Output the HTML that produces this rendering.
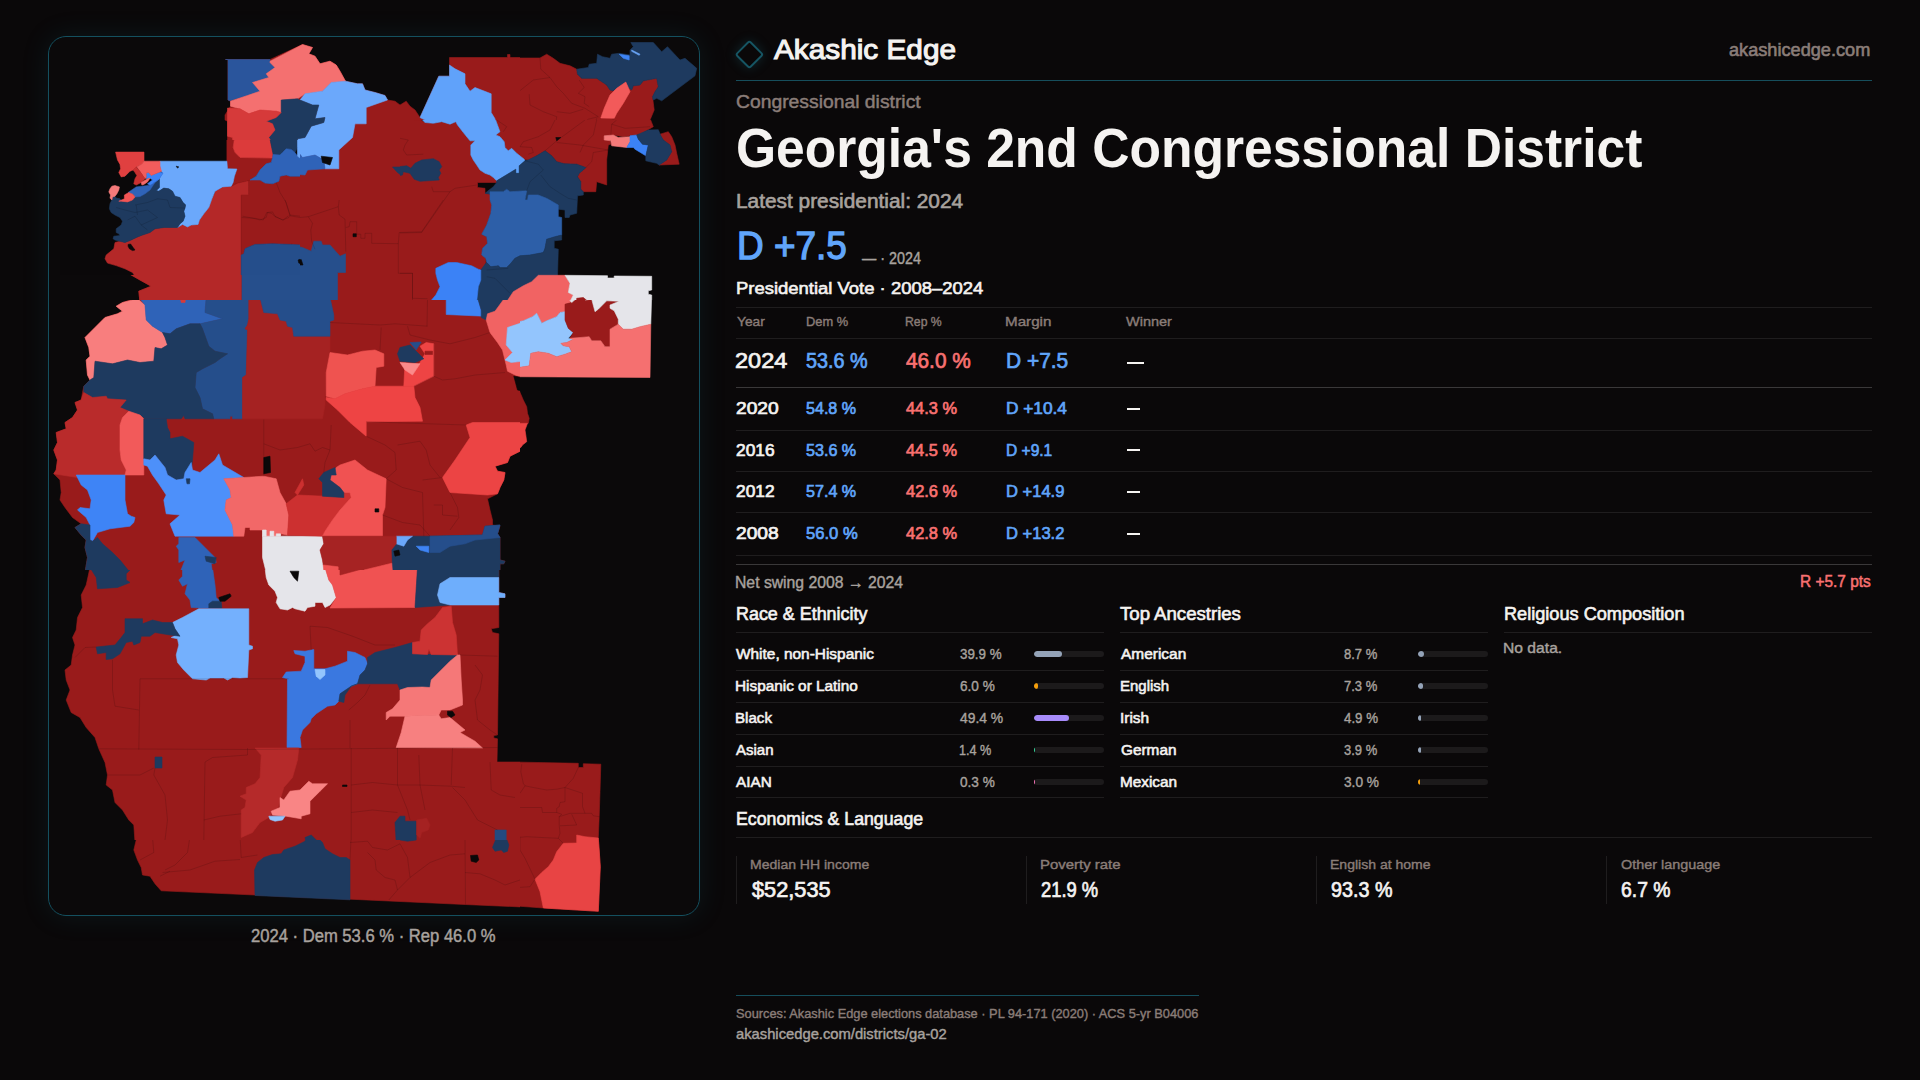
<!DOCTYPE html>
<html lang="en"><head><meta charset="utf-8"><title>Georgia's 2nd Congressional District — Akashic Edge</title>
<style>
html,body{margin:0;padding:0;background:#0a0809;}
body{width:1920px;height:1080px;position:relative;overflow:hidden;font-family:"Liberation Sans",sans-serif;}
.t{position:absolute;white-space:pre;line-height:1;transform-origin:0 50%;}
.r{position:absolute;}
.card{position:absolute;left:48px;top:36px;width:650px;height:878px;border:1px solid #14505f;border-radius:18px;box-shadow:0 0 28px rgba(30,130,150,0.13);background:transparent;}
.mapclip{position:absolute;left:49px;top:37px;width:650px;height:878px;border-radius:17px;overflow:hidden;background:#0b090a;}
.mapclip svg{position:absolute;left:-49px;top:-37px;}
.logo{position:absolute;left:738.9px;top:43.6px;width:20.8px;height:20.8px;border:2.1px solid #165563;transform:rotate(45deg);box-shadow:0 0 12px rgba(30,130,150,0.25);box-sizing:border-box;border-radius:3px}
</style></head><body>
<div class="mapclip"><svg class="map" width="1920" height="1080" viewBox="0 0 1920 1080">
<defs><clipPath id="c0"><rect x="40.0" y="30.0" width="480.0" height="270.0"/></clipPath><clipPath id="c1"><rect x="40.0" y="300.0" width="480.0" height="270.0"/></clipPath><clipPath id="c2"><rect x="40.0" y="570.0" width="480.0" height="270.0"/></clipPath><clipPath id="c3"><rect x="40.0" y="840.0" width="480.0" height="170.0"/></clipPath><clipPath id="c4"><rect x="520.0" y="30.0" width="240.0" height="180.0"/></clipPath><clipPath id="c5"><rect x="520.0" y="210.0" width="240.0" height="180.0"/></clipPath><clipPath id="c6"><rect x="520.0" y="390.0" width="240.0" height="180.0"/></clipPath><clipPath id="c7"><rect x="520.0" y="750.0" width="240.0" height="180.0"/></clipPath><clipPath id="c8"><rect x="400.0" y="120.0" width="320.0" height="180.0"/></clipPath><clipPath id="c9"><rect x="60.0" y="140.0" width="240.0" height="135.0"/></clipPath><clipPath id="c10"><rect x="300.0" y="740.0" width="320.0" height="180.0"/></clipPath><clipPath id="c11"><rect x="200.0" y="200.0" width="320.0" height="100.0"/></clipPath></defs>
<g clip-path="url(#c0)">
<polygon points="225.5,59.5 270.0,59.5 302.5,44.5 312.5,47.5 308.8,53.8 315.0,56.2 320.0,63.8 330.0,61.2 336.2,65.0 340.0,71.2 345.5,81.2 357.5,83.8 362.5,83.8 365.0,90.0 375.0,92.5 385.0,95.5 387.5,100.0 395.0,101.2 400.0,105.0 406.2,101.2 410.0,106.2 415.0,110.0 420.0,117.5 438.8,76.2 449.5,76.2 449.5,57.5 507.5,57.5 507.5,54.5 510.0,54.5 510.0,57.5 522.5,57.5 522.5,302.5 140.0,302.5 138.8,291.2 151.2,286.2 140.0,280.0 122.5,270.0 107.5,262.5 105.5,257.5 115.0,242.5 113.8,237.5 117.5,227.5 115.0,217.5 109.5,207.5 112.5,200.0 108.8,197.5 108.8,190.0 112.5,186.2 119.5,187.5 117.5,181.2 120.0,176.2 118.8,162.5 115.5,152.0 143.8,152.0 143.8,161.8 227.5,160.5 227.5,121.2 225.0,120.0 225.0,115.0 230.5,106.2 230.5,101.2 228.0,100.0 228.0,59.5" fill="#991b1b" stroke="#991b1b" stroke-width="0.6"/>
<polygon points="225.5,59.5 270.0,59.5 270.0,62.5 275.0,67.5 266.2,73.8 268.8,77.5 252.5,82.5 260.0,91.2 247.5,95.5 230.0,100.8 228.0,100.0 228.0,59.5" fill="#2a559c" stroke="#2a559c" stroke-width="0.6"/>
<polygon points="270.0,61.2 302.5,44.5 312.5,47.5 308.8,53.8 315.0,56.2 320.0,63.8 330.0,61.2 336.2,65.0 340.0,71.2 345.5,81.2 331.2,82.5 322.5,91.2 305.0,93.8 297.5,98.8 281.2,100.0 281.2,112.5 276.2,111.2 260.0,110.0 248.8,113.8 240.0,108.8 230.5,106.2 230.5,101.2 247.5,95.5 260.0,91.2 252.5,82.5 268.8,77.5 266.2,73.8 275.0,67.5 270.0,62.5" fill="#f47070" stroke="#f47070" stroke-width="0.6"/>
<polygon points="345.5,81.2 357.5,83.8 362.5,83.8 365.0,90.0 375.0,92.5 385.0,95.5 387.5,100.0 366.2,107.5 366.2,123.8 355.0,123.8 352.5,137.5 338.8,150.0 338.8,168.8 325.0,168.8 323.8,160.0 315.0,155.0 302.5,157.5 297.5,151.2 297.5,138.8 305.0,137.5 311.2,126.2 323.8,122.5 325.0,117.5 315.0,118.8 318.8,105.0 312.5,105.0 300.0,100.0 305.0,93.8 322.5,91.2 331.2,82.5" fill="#6ba8fb" stroke="#6ba8fb" stroke-width="0.6"/>
<polygon points="281.2,100.0 297.5,98.8 300.0,100.0 312.5,105.0 318.8,105.0 315.0,118.8 325.0,117.5 323.8,122.5 311.2,126.2 305.0,137.5 297.5,138.8 297.5,151.2 290.0,148.8 282.5,150.0 280.0,155.0 273.8,153.8 272.5,143.8 268.8,137.5 275.0,130.0 272.5,123.8 266.2,121.2 276.2,117.5 281.2,112.5" fill="#1e3a5f" stroke="#1e3a5f" stroke-width="0.6"/>
<polygon points="227.5,108.0 240.0,108.8 248.8,113.8 260.0,110.0 276.2,111.2 281.2,112.5 276.2,117.5 266.2,121.2 272.5,123.8 275.0,130.0 268.8,137.5 272.5,143.8 273.8,153.8 272.0,158.0 240.0,158.0 233.8,151.2 232.5,137.5 227.5,136.2" fill="#d63a3a" stroke="#d63a3a" stroke-width="0.6"/>
<polygon points="280.0,155.0 282.5,150.0 290.0,148.8 297.5,151.2 302.5,157.5 315.0,155.0 323.8,160.0 325.0,168.8 307.5,170.0 305.0,175.0 290.0,173.8 280.0,176.2 276.2,181.2 268.8,183.8 262.5,180.0 251.2,180.0 257.5,175.0 260.0,170.0 266.2,165.0 272.5,162.5" fill="#2f63b8" stroke="#2f63b8" stroke-width="0.6"/>
<polygon points="321.2,156.2 332.5,157.5 330.0,165.0 322.5,162.5" fill="#0a0809" stroke="#0a0809" stroke-width="0.6"/>
<polygon points="215.0,192.0 232.5,185.0 249.0,180.5 249.0,195.0 241.2,195.0 241.2,302.5 140.0,302.5 138.8,291.2 151.2,286.2 140.0,280.0 122.5,270.0 107.5,262.5 105.5,257.5 115.0,242.5 120.0,242.5 127.5,243.8 137.5,240.0 147.5,233.8 160.0,228.8 180.0,227.0 187.5,225.5 192.5,226.2 198.8,223.8 202.5,216.2 210.0,205.0" fill="#b42828" stroke="#b42828" stroke-width="0.6"/>
<polygon points="161.2,161.8 227.5,161.2 236.2,169.2 232.5,181.2 233.8,183.8 215.0,192.0 210.0,205.0 202.5,216.2 198.8,223.8 192.5,226.2 187.5,225.5 182.5,222.5 185.0,215.0 183.8,207.5 186.2,202.5 180.0,196.2 172.5,190.0 165.0,188.0 158.8,190.0 158.8,178.8 163.8,172.5 161.2,170.0" fill="#6ba8fb" stroke="#6ba8fb" stroke-width="0.6"/>
<polygon points="158.8,178.8 158.8,190.0 165.0,188.0 172.5,190.0 180.0,196.2 186.2,202.5 183.8,207.5 185.0,215.0 182.5,222.5 180.0,227.0 160.0,228.8 147.5,233.8 137.5,240.0 127.5,243.8 115.0,242.5 113.8,237.5 117.5,227.5 115.0,217.5 109.5,207.5 112.5,200.0 120.0,201.2 126.2,200.0 132.5,195.0 140.0,190.0 150.0,185.0" fill="#1e3a5f" stroke="#1e3a5f" stroke-width="0.6"/>
<polygon points="115.5,152.0 143.8,152.0 143.8,166.2 135.0,167.5 130.0,173.8 120.0,176.2 118.8,162.5" fill="#ec4848" stroke="#ec4848" stroke-width="0.6"/>
<polygon points="143.8,161.8 161.2,161.8 161.2,170.0 150.0,177.5 145.0,180.0 140.0,170.0 135.0,167.5 143.8,166.2" fill="#f47070" stroke="#f47070" stroke-width="0.6"/>
<polygon points="135.0,167.5 140.0,170.0 145.0,180.0 140.0,185.0 135.0,182.5 137.5,175.0" fill="#d63a3a" stroke="#d63a3a" stroke-width="0.6"/>
<polygon points="146.2,172.5 150.0,175.0 163.8,172.5 152.5,181.2 146.2,180.0" fill="#3e84f5" stroke="#3e84f5" stroke-width="0.6"/>
<polygon points="130.0,192.5 140.0,187.5 150.0,183.8 158.8,178.8 157.5,182.5 147.5,188.8 135.0,196.2" fill="#2f63b8" stroke="#2f63b8" stroke-width="0.6"/>
<polygon points="117.5,181.2 127.5,172.5 135.0,170.5 137.5,180.0 132.5,185.0 126.2,192.5 122.5,198.8 116.2,197.5 120.0,190.0" fill="#0a0809" stroke="#0a0809" stroke-width="0.6"/>
<polygon points="108.8,190.0 112.5,186.2 119.5,187.5 116.2,197.5 112.5,200.0 108.8,197.5" fill="#f47070" stroke="#f47070" stroke-width="0.6"/>
<polygon points="125.0,195.0 131.2,192.5 135.0,196.2 127.5,202.5 120.0,201.2" fill="#ec4848" stroke="#ec4848" stroke-width="0.6"/>
<polygon points="127.5,244.5 131.2,245.5 135.0,250.5 130.0,250.0" fill="#0a0809" stroke="#0a0809" stroke-width="0.6"/>
<polygon points="438.8,76.2 449.5,76.2 449.5,65.0 455.0,68.8 465.0,73.8 465.0,83.8 470.0,91.2 475.0,87.5 491.2,93.8 491.2,112.5 495.0,118.8 496.2,126.2 502.5,131.2 495.0,132.5 507.5,140.0 510.0,150.0 522.5,155.0 522.5,170.0 497.5,180.0 490.0,173.8 481.2,168.8 472.5,156.2 470.0,145.0 475.0,140.0 465.0,132.5 456.2,122.5 450.0,125.0 442.5,122.5 433.8,124.5 420.0,117.5" fill="#60a2fa" stroke="#60a2fa" stroke-width="0.6"/>
<polygon points="392.5,167.0 412.5,167.0 420.0,160.0 435.0,158.8 441.2,163.8 440.0,175.0 437.5,180.0 420.0,181.2 412.5,177.5 410.0,172.5 402.5,176.2 397.5,172.5" fill="#1e3a5f" stroke="#1e3a5f" stroke-width="0.6"/>
<polygon points="477.5,182.0 497.5,182.0 495.0,187.5 490.0,195.0 486.2,192.5 485.0,188.0 477.5,188.0" fill="#0a0809" stroke="#0a0809" stroke-width="0.6"/>
<polygon points="490.0,195.0 497.5,187.5 522.5,187.5 522.5,255.0 510.0,265.0 497.5,266.2 485.0,262.5 482.5,250.0 487.5,242.5 482.5,235.0 487.5,227.5 490.0,215.0 492.5,207.5" fill="#2f63b8" stroke="#2f63b8" stroke-width="0.6"/>
<polygon points="497.5,180.0 522.5,168.8 522.5,187.5 497.5,187.5" fill="#1e3a5f" stroke="#1e3a5f" stroke-width="0.6"/>
<polygon points="242.0,250.0 247.5,246.2 257.5,243.8 280.0,243.8 290.0,245.0 302.5,247.5 311.2,251.2 313.8,241.2 321.2,241.2 322.5,245.0 330.0,245.0 340.0,256.2 345.5,253.8 345.5,272.5 337.5,272.5 337.5,302.5 242.0,302.5" fill="#264f8c" stroke="#264f8c" stroke-width="0.6"/>
<polygon points="298.8,260.0 301.2,259.5 303.0,265.0 300.0,265.0" fill="#0a0809" stroke="#0a0809" stroke-width="0.6"/>
<polygon points="435.0,270.0 445.0,263.8 455.0,262.5 470.0,266.2 481.2,271.2 480.0,282.5 478.8,290.0 478.8,302.5 440.0,302.5 440.0,285.0 436.2,280.0" fill="#3e84f5" stroke="#3e84f5" stroke-width="0.6"/>
<polygon points="481.2,271.2 485.0,262.5 497.5,266.2 510.0,265.0 522.5,255.0 522.5,302.5 478.8,302.5 478.8,290.0 480.0,282.5" fill="#1e3a5f" stroke="#1e3a5f" stroke-width="0.6"/>
</g>
<g clip-path="url(#c1)">
<polygon points="137.5,297.5 522.5,297.5 522.5,450.0 510.0,456.2 507.5,462.5 495.0,466.2 497.5,471.2 505.0,472.5 503.8,480.0 500.0,487.5 497.5,493.8 487.5,498.8 490.0,510.0 492.5,520.0 492.5,525.0 500.0,526.2 497.5,533.8 500.0,537.5 500.0,560.0 505.0,561.2 503.8,563.8 500.0,563.8 500.0,572.5 85.0,572.5 87.5,557.5 85.0,547.5 86.2,540.0 81.2,535.0 75.0,527.5 81.2,523.8 72.5,517.5 65.0,507.5 60.0,500.0 61.2,492.5 60.0,480.0 53.8,473.8 56.2,470.0 57.5,460.0 53.8,450.0 57.5,442.5 56.2,432.5 66.2,428.8 65.0,422.5 72.5,417.5 77.5,410.0 75.0,402.5 81.2,400.0 82.5,392.5 83.8,386.2 90.0,380.0 87.5,375.0 86.2,360.0 90.0,356.2 88.8,347.5 85.0,337.5 95.0,327.5 105.0,317.5 117.5,313.8 122.5,311.2 116.2,306.2 122.5,302.5" fill="#991b1b" stroke="#991b1b" stroke-width="0.6"/>
<polygon points="117.5,313.8 122.5,311.2 116.2,306.2 122.5,302.5 137.5,298.8 145.0,305.0 146.2,320.0 152.5,326.2 162.5,332.5 165.0,337.5 167.5,345.0 161.2,348.8 155.0,347.5 153.8,361.2 140.0,362.5 127.5,360.0 112.5,363.8 95.0,361.2 93.8,377.5 90.0,380.0 87.5,375.0 86.2,360.0 90.0,356.2 88.8,347.5 85.0,337.5 95.0,327.5 105.0,317.5" fill="#f87e7e" stroke="#f87e7e" stroke-width="0.6"/>
<polygon points="138.8,297.5 206.2,297.5 205.0,312.5 222.5,318.8 200.0,323.8 190.0,323.8 176.2,328.8 170.0,333.8 162.5,332.5 152.5,326.2 146.2,320.0 145.0,305.0" fill="#2f63b8" stroke="#2f63b8" stroke-width="0.6"/>
<polygon points="180.5,298.8 185.5,298.8 185.0,302.5 181.2,302.5" fill="#d63a3a" stroke="#d63a3a" stroke-width="0.6"/>
<polygon points="206.2,297.5 248.8,297.5 248.8,318.8 247.5,325.0 245.0,328.8 247.5,330.0 246.2,375.0 242.5,377.5 242.5,418.8 232.5,418.8 232.5,416.2 230.0,416.2 230.0,418.8 213.8,418.8 212.5,413.8 202.5,408.8 200.0,397.5 195.0,387.5 196.2,372.5 202.5,368.8 215.0,362.5 220.0,358.8 227.5,353.8 215.0,351.2 208.8,346.2 202.5,328.8 200.0,323.8 222.5,318.8 205.0,312.5" fill="#254e8b" stroke="#254e8b" stroke-width="0.6"/>
<polygon points="170.0,333.8 176.2,328.8 190.0,323.8 200.0,323.8 202.5,328.8 208.8,346.2 215.0,351.2 227.5,353.8 220.0,358.8 215.0,362.5 202.5,368.8 196.2,372.5 195.0,387.5 200.0,397.5 202.5,408.8 212.5,413.8 213.8,418.8 185.0,418.8 183.8,415.5 181.2,418.8 145.0,418.8 140.0,415.0 128.8,411.2 120.0,407.5 126.2,400.0 107.5,398.8 106.2,396.2 92.5,397.5 83.8,392.5 83.8,386.2 90.0,380.0 93.8,377.5 95.0,361.2 112.5,363.8 127.5,360.0 140.0,362.5 153.8,361.2 155.0,347.5 161.2,348.8 167.5,345.0 165.0,337.5 162.5,332.5" fill="#1e3a5f" stroke="#1e3a5f" stroke-width="0.6"/>
<polygon points="248.8,297.5 260.0,297.5 263.8,312.5 277.5,313.8 280.0,320.0 286.2,321.2 287.5,326.2 292.5,327.5 293.8,336.2 330.0,336.2 330.0,350.0 326.2,372.5 325.0,396.2 325.0,405.0 322.5,418.8 242.5,418.8 242.5,377.5 246.2,375.0 247.5,330.0 245.0,328.8 247.5,325.0 248.8,318.8" fill="#a52222" stroke="#a52222" stroke-width="0.6"/>
<polygon points="260.0,297.5 330.0,297.5 333.8,315.0 333.8,320.0 330.0,321.2 330.0,336.2 293.8,336.2 292.5,327.5 287.5,326.2 286.2,321.2 280.0,320.0 277.5,313.8 263.8,312.5" fill="#254e8b" stroke="#254e8b" stroke-width="0.6"/>
<polygon points="446.2,297.5 477.5,297.5 481.2,310.0 483.8,316.2 446.2,314.5" fill="#3e84f5" stroke="#3e84f5" stroke-width="0.6"/>
<polygon points="477.5,297.5 505.0,297.5 495.0,311.2 487.5,313.8 486.2,320.0 481.2,317.5 481.2,310.0" fill="#1e3a5f" stroke="#1e3a5f" stroke-width="0.6"/>
<polygon points="505.0,297.5 522.5,297.5 522.5,322.5 507.5,327.5 506.2,345.0 512.5,352.5 505.0,360.0 511.2,362.5 522.5,361.2 522.5,377.5 515.0,375.0 507.5,371.2 506.2,365.0 502.5,350.0 497.5,342.5 490.0,332.5 486.2,320.0 487.5,313.8 495.0,311.2" fill="#f16363" stroke="#f16363" stroke-width="0.6"/>
<polygon points="507.5,327.5 522.5,322.5 522.5,361.2 511.2,362.5 505.0,360.0 512.5,352.5 506.2,345.0" fill="#93c5fd" stroke="#93c5fd" stroke-width="0.6"/>
<polygon points="513.8,376.2 522.5,377.5 522.5,391.2 517.5,390.0" fill="#0a0809" stroke="#0a0809" stroke-width="0.6"/>
<polygon points="330.0,352.5 347.5,355.0 362.5,351.2 375.0,350.0 383.8,353.8 383.8,366.2 376.2,367.5 375.0,386.2 362.5,388.8 345.0,393.8 335.0,398.8 326.2,396.2 326.2,372.5" fill="#ef5350" stroke="#ef5350" stroke-width="0.6"/>
<polygon points="326.2,397.5 335.0,398.8 345.0,393.8 362.5,388.8 375.0,386.2 413.8,386.2 415.0,397.5 420.0,407.5 422.5,421.2 366.2,421.8 366.2,436.2 350.0,422.5 337.5,410.0 326.2,400.0" fill="#ee4444" stroke="#ee4444" stroke-width="0.6"/>
<polygon points="403.8,386.2 405.0,362.5 412.5,375.0 420.0,362.5 425.0,353.8 420.0,346.2 426.2,342.5 433.8,343.8 433.8,376.2 413.8,386.2" fill="#ee4444" stroke="#ee4444" stroke-width="0.6"/>
<polygon points="400.0,362.5 420.0,363.8 412.5,375.0 405.0,370.0" fill="#fb8a8a" stroke="#fb8a8a" stroke-width="0.6"/>
<polygon points="400.0,347.5 410.0,345.0 417.5,352.5 423.8,358.8 415.0,362.5 400.0,361.2 397.5,353.8" fill="#1e3a5f" stroke="#1e3a5f" stroke-width="0.6"/>
<polygon points="410.0,342.5 421.2,342.0 416.2,350.0" fill="#254e8b" stroke="#254e8b" stroke-width="0.6"/>
<polygon points="425.0,351.2 432.5,351.2 432.5,354.5 425.0,354.5" fill="#991b1b" stroke="#991b1b" stroke-width="0.6"/>
<polygon points="83.8,392.5 92.5,397.5 106.2,396.2 107.5,398.8 126.2,400.0 120.0,407.5 128.8,411.2 122.5,417.5 120.0,425.0 120.0,450.0 121.2,460.0 126.2,470.0 125.0,475.0 77.5,477.5 53.8,473.8 56.2,470.0 57.5,460.0 53.8,450.0 57.5,442.5 56.2,432.5 66.2,428.8 65.0,422.5 72.5,417.5 77.5,410.0 75.0,402.5 81.2,400.0" fill="#b92b2b" stroke="#b92b2b" stroke-width="0.6"/>
<polygon points="128.8,411.2 140.0,415.0 143.8,418.8 143.8,475.0 125.0,475.0 126.2,470.0 121.2,460.0 120.0,450.0 120.0,425.0 122.5,417.5" fill="#f25a5a" stroke="#f25a5a" stroke-width="0.6"/>
<polygon points="143.8,418.8 166.2,418.8 167.5,427.5 170.0,432.5 170.0,438.8 182.5,436.2 193.8,442.5 192.5,460.0 191.2,470.0 185.0,472.5 183.8,478.8 176.2,480.0 167.5,475.0 165.0,467.5 155.0,455.0 150.0,460.0 143.8,458.8" fill="#1e3a5f" stroke="#1e3a5f" stroke-width="0.6"/>
<polygon points="143.8,458.8 150.0,460.0 155.0,455.0 165.0,467.5 167.5,475.0 176.2,480.0 183.8,478.8 185.0,472.5 191.2,462.5 192.5,470.0 200.0,472.5 215.0,460.0 218.8,453.8 222.5,465.0 243.8,477.5 223.8,478.8 230.0,490.0 231.2,497.5 226.2,500.0 225.0,510.0 232.5,525.0 233.8,536.2 175.0,536.2 170.0,523.8 180.0,515.0 166.2,513.8 163.8,500.0 166.2,495.0 158.8,483.8 152.5,475.0 147.5,466.2 143.8,465.0" fill="#4d90fa" stroke="#4d90fa" stroke-width="0.6"/>
<polygon points="186.2,478.8 190.0,478.8 189.5,483.8 187.0,483.8" fill="#1e3a5f" stroke="#1e3a5f" stroke-width="0.6"/>
<polygon points="76.2,475.0 125.0,475.0 125.0,500.0 127.5,513.8 131.2,516.2 135.0,517.5 133.8,522.5 130.0,526.2 110.0,528.8 97.5,532.5 92.5,541.2 90.0,540.0 90.0,525.0 86.2,517.5 77.5,510.0 80.0,507.5 90.0,508.8 91.2,500.0 87.5,490.0 81.2,485.0" fill="#3e84f6" stroke="#3e84f6" stroke-width="0.6"/>
<polygon points="75.0,527.5 81.2,523.8 90.0,525.0 90.0,540.0 92.5,541.2 97.5,537.5 102.5,543.8 112.5,552.5 120.0,560.0 130.0,572.5 85.0,572.5 87.5,557.5 85.0,547.5 86.2,540.0 81.2,535.0" fill="#1e3a5f" stroke="#1e3a5f" stroke-width="0.6"/>
<polygon points="178.8,537.5 195.0,537.5 205.0,547.5 215.0,557.5 216.2,562.5 211.2,563.8 212.5,572.5 180.0,572.5 185.0,560.0 178.8,562.5 178.8,550.0 176.2,546.2 178.8,543.8" fill="#2f63b8" stroke="#2f63b8" stroke-width="0.6"/>
<polygon points="205.0,556.2 216.2,557.5 215.0,563.8 206.2,561.2" fill="#1e3a5f" stroke="#1e3a5f" stroke-width="0.6"/>
<polygon points="223.8,478.8 243.8,477.5 263.8,476.2 276.2,478.8 280.0,492.5 286.2,503.8 288.8,515.0 287.5,535.0 281.2,533.8 280.0,536.2 262.5,536.2 262.5,530.0 250.0,530.0 250.0,527.5 245.0,527.5 243.8,536.2 233.8,536.2 232.5,525.0 225.0,510.0 226.2,500.0 231.2,497.5 230.0,490.0" fill="#f26868" stroke="#f26868" stroke-width="0.6"/>
<polygon points="262.5,536.2 322.5,536.2 323.8,543.8 320.0,550.0 322.5,560.0 325.0,572.5 266.2,572.5 262.5,557.5" fill="#e5e5ea" stroke="#e5e5ea" stroke-width="0.6"/>
<polygon points="262.5,530.0 266.2,530.0 266.2,536.2 262.5,536.2" fill="#e5e5ea" stroke="#e5e5ea" stroke-width="0.6"/>
<polygon points="270.0,531.2 273.8,531.2 273.8,536.2 270.0,536.2" fill="#e5e5ea" stroke="#e5e5ea" stroke-width="0.6"/>
<polygon points="276.2,533.8 280.5,533.8 280.5,536.2 276.2,536.2" fill="#e5e5ea" stroke="#e5e5ea" stroke-width="0.6"/>
<polygon points="263.8,457.5 270.0,456.2 270.5,472.5 263.8,473.8" fill="#0a0809" stroke="#0a0809" stroke-width="0.6"/>
<polygon points="286.2,503.8 297.5,495.0 323.8,496.2 343.8,497.5 343.8,492.5 350.0,492.5 351.2,497.5 340.0,510.0 332.5,520.0 325.0,531.2 322.5,536.2 287.5,535.0 288.8,515.0" fill="#cc3030" stroke="#cc3030" stroke-width="0.6"/>
<polygon points="295.0,492.5 302.5,478.8 303.8,485.0 297.5,495.0" fill="#cc3030" stroke="#cc3030" stroke-width="0.6"/>
<polygon points="331.2,475.0 336.2,467.5 340.0,465.0 355.0,460.0 367.5,470.0 386.2,478.8 385.0,507.5 382.5,515.0 382.5,536.2 322.5,536.2 325.0,531.2 332.5,520.0 340.0,510.0 351.2,497.5 350.0,492.5 343.8,492.5 340.0,487.5 330.0,480.0" fill="#f05252" stroke="#f05252" stroke-width="0.6"/>
<polygon points="375.0,508.8 378.8,508.8 378.8,512.0 375.0,512.0" fill="#0a0809" stroke="#0a0809" stroke-width="0.6"/>
<polygon points="318.8,478.8 323.8,472.5 335.0,467.5 336.2,475.0 331.2,475.0 330.0,480.0 340.0,487.5 343.8,492.5 343.8,497.5 322.5,496.2 322.5,482.5" fill="#1e3a5f" stroke="#1e3a5f" stroke-width="0.6"/>
<polygon points="466.2,425.0 472.5,422.5 522.5,422.5 522.5,450.0 510.0,456.2 507.5,462.5 495.0,466.2 497.5,471.2 505.0,472.5 503.8,480.0 500.0,487.5 497.5,493.8 487.5,495.0 450.0,492.5 442.5,477.5 455.0,460.0 470.0,437.5" fill="#ec4444" stroke="#ec4444" stroke-width="0.6"/>
<polygon points="391.2,550.0 396.2,543.8 407.5,540.0 412.5,536.2 430.0,536.2 482.5,535.0 485.0,526.2 500.0,525.0 497.5,533.8 500.0,537.5 500.0,560.0 505.0,561.2 503.8,563.8 500.0,563.8 500.0,572.5 391.2,572.5" fill="#1e3a5f" stroke="#1e3a5f" stroke-width="0.6"/>
<polygon points="430.0,536.2 482.5,535.0 485.0,526.2 500.0,525.0 497.5,533.8 500.0,537.5 475.0,540.0 465.0,543.8 450.0,546.2 440.0,552.5 430.0,552.5" fill="#254e8b" stroke="#254e8b" stroke-width="0.6"/>
<polygon points="396.2,536.2 412.5,536.2 407.5,540.0 403.8,546.2 396.2,543.8" fill="#6ba8fb" stroke="#6ba8fb" stroke-width="0.6"/>
<polygon points="416.2,546.2 428.8,546.2 428.8,552.5 420.0,550.0" fill="#3e84f5" stroke="#3e84f5" stroke-width="0.6"/>
<polygon points="393.8,551.2 398.8,550.0 400.0,555.0 395.0,556.2" fill="#0a0809" stroke="#0a0809" stroke-width="0.6"/>
<polygon points="322.5,536.2 396.2,536.2 396.2,543.8 391.2,550.0 391.8,563.2 364.0,570.0 364.0,572.5 338.2,572.5 338.2,566.8 323.2,565.0 322.5,560.0 320.0,550.0 323.8,543.8" fill="#a62323" stroke="#a62323" stroke-width="0.6"/>
<polygon points="323.2,565.0 338.2,566.8 338.2,572.5 324.0,572.5" fill="#f05252" stroke="#f05252" stroke-width="0.6"/>
<polygon points="364.0,570.0 391.8,563.2 392.5,572.5 364.0,572.5" fill="#f05252" stroke="#f05252" stroke-width="0.6"/>
<polyline points="330.0,322.5 380.0,325.0 395.0,323.8 427.5,326.2" fill="none" stroke="#000" stroke-opacity="0.22" stroke-width="0.6"/>
<polyline points="427.5,300.0 427.0,326.2" fill="none" stroke="#000" stroke-opacity="0.22" stroke-width="0.6"/>
<polyline points="407.5,326.2 410.0,335.0 430.0,340.0 450.0,343.8 475.0,337.5 490.0,332.5" fill="none" stroke="#000" stroke-opacity="0.22" stroke-width="0.6"/>
<polyline points="433.8,343.8 433.8,376.2 442.5,380.0 455.0,378.8 475.0,375.0 505.0,372.5" fill="none" stroke="#000" stroke-opacity="0.22" stroke-width="0.6"/>
<polyline points="413.8,386.2 433.8,376.2" fill="none" stroke="#000" stroke-opacity="0.22" stroke-width="0.6"/>
<polyline points="263.8,419.5 263.8,476.2" fill="none" stroke="#000" stroke-opacity="0.22" stroke-width="0.6"/>
<polyline points="263.8,443.8 280.0,450.0 297.5,447.5 310.0,443.8 315.0,451.2 322.5,447.5 330.0,450.0" fill="none" stroke="#000" stroke-opacity="0.22" stroke-width="0.6"/>
<polyline points="331.2,425.0 330.0,450.0 325.0,462.5 323.8,472.5" fill="none" stroke="#000" stroke-opacity="0.22" stroke-width="0.6"/>
<polyline points="366.2,436.2 385.0,445.0 395.0,452.5 396.2,470.0 386.2,478.8" fill="none" stroke="#000" stroke-opacity="0.22" stroke-width="0.6"/>
<polyline points="397.5,445.0 420.0,441.2 426.2,450.0 430.0,465.0 440.0,477.5" fill="none" stroke="#000" stroke-opacity="0.22" stroke-width="0.6"/>
<polyline points="466.2,425.0 366.2,421.8" fill="none" stroke="#000" stroke-opacity="0.22" stroke-width="0.6"/>
<polyline points="386.2,478.8 402.5,487.5 422.5,492.5 423.8,536.2" fill="none" stroke="#000" stroke-opacity="0.22" stroke-width="0.6"/>
<polyline points="422.5,480.0 442.5,477.5" fill="none" stroke="#000" stroke-opacity="0.22" stroke-width="0.6"/>
<polyline points="433.8,505.0 442.5,505.0 442.5,515.0 457.5,516.2" fill="none" stroke="#000" stroke-opacity="0.22" stroke-width="0.6"/>
<polyline points="450.0,492.5 457.5,507.5 458.8,517.5 450.0,530.0" fill="none" stroke="#000" stroke-opacity="0.22" stroke-width="0.6"/>
<polyline points="382.5,515.0 402.5,522.5 420.0,525.0 430.0,536.2" fill="none" stroke="#000" stroke-opacity="0.22" stroke-width="0.6"/>
<polyline points="381.2,327.5 380.0,350.0" fill="none" stroke="#000" stroke-opacity="0.22" stroke-width="0.6"/>
</g>
<g clip-path="url(#c2)">
<polygon points="90.0,567.5 498.8,567.5 498.8,592.5 505.0,593.8 505.0,597.5 498.8,597.5 498.8,627.5 491.2,628.8 492.5,632.5 498.8,633.8 497.5,735.0 493.8,735.5 493.8,738.0 497.5,738.8 497.0,762.0 522.5,762.0 522.5,842.5 135.0,842.5 133.8,825.0 128.8,820.0 122.5,810.0 115.0,802.5 112.5,790.0 106.2,785.0 107.5,775.0 105.0,762.5 98.8,748.8 95.0,737.5 86.2,727.5 80.0,717.5 71.2,712.5 66.2,700.0 70.0,690.0 66.2,680.0 65.0,670.0 71.2,665.0 72.5,655.0 75.0,645.0 72.5,637.5 76.2,630.0 77.5,617.5 82.5,607.5 81.2,595.0 86.2,585.0" fill="#991b1b" stroke="#991b1b" stroke-width="0.6"/>
<polygon points="90.0,567.5 132.5,567.5 126.2,573.8 126.2,580.0 130.0,582.5 117.5,587.5 97.5,588.8 96.2,577.5" fill="#1e3a5f" stroke="#1e3a5f" stroke-width="0.6"/>
<polygon points="182.5,567.5 212.5,567.5 215.0,585.0 216.2,597.5 220.0,601.2 221.2,607.5 208.8,608.0 200.0,608.0 191.2,607.5 190.0,600.0 185.0,593.8 187.5,583.8 182.5,586.2 178.8,580.0 182.5,576.2" fill="#2f63b8" stroke="#2f63b8" stroke-width="0.6"/>
<polygon points="208.8,603.8 212.5,601.2 221.2,601.2 221.8,608.0 208.8,608.0" fill="#1e3a5f" stroke="#1e3a5f" stroke-width="0.6"/>
<polygon points="218.8,597.5 230.0,593.8 231.2,596.2 225.0,601.2 220.0,601.2" fill="#0a0809" stroke="#0a0809" stroke-width="0.6"/>
<polygon points="265.0,567.5 325.0,567.5 328.8,580.0 332.5,585.0 336.2,597.5 330.0,605.0 325.0,607.5 322.5,602.5 315.0,602.5 315.0,606.2 307.5,607.5 305.0,611.2 295.0,608.8 292.5,607.5 287.5,610.0 280.0,608.8 276.2,602.5 277.5,597.5 275.0,591.2 268.8,585.0 266.2,577.5" fill="#e5e5ea" stroke="#e5e5ea" stroke-width="0.6"/>
<polygon points="290.0,571.2 298.8,571.2 297.5,581.2 293.8,577.5" fill="#0a0809" stroke="#0a0809" stroke-width="0.6"/>
<polygon points="325.0,567.5 417.5,567.5 415.0,607.5 330.0,608.0 336.2,597.5 332.5,585.0 328.8,580.0" fill="#f05252" stroke="#f05252" stroke-width="0.6"/>
<polygon points="340.0,567.5 367.5,567.5 340.0,575.0" fill="#a62323" stroke="#a62323" stroke-width="0.6"/>
<polygon points="417.5,567.5 498.8,567.5 498.8,577.5 450.0,577.5 440.0,583.8 437.5,595.0 440.0,602.5 450.0,605.0 415.0,607.5" fill="#1e3a5f" stroke="#1e3a5f" stroke-width="0.6"/>
<polygon points="450.0,577.5 498.8,577.5 498.8,592.5 505.0,593.8 505.0,597.5 498.8,597.5 498.8,605.0 450.0,605.0 440.0,602.5 437.5,595.0 440.0,583.8" fill="#6eaefc" stroke="#6eaefc" stroke-width="0.6"/>
<polygon points="198.8,608.8 248.8,608.8 248.8,645.0 252.5,646.2 252.5,648.8 248.8,650.0 247.5,677.5 240.0,678.0 232.5,677.5 227.5,680.0 223.8,678.0 210.0,678.0 206.2,680.0 192.5,678.8 183.8,670.0 177.5,662.5 176.2,655.0 178.8,645.0 177.5,638.8 171.2,637.5 176.2,635.0 180.0,636.2 175.0,628.8 172.5,622.5 182.5,617.5" fill="#74b0fd" stroke="#74b0fd" stroke-width="0.6"/>
<polygon points="125.0,618.8 142.5,618.8 142.5,623.8 152.5,620.0 162.5,622.5 172.5,622.5 175.0,628.8 180.0,636.2 170.0,635.0 155.0,632.5 150.0,636.2 141.2,636.2 140.0,642.5 133.8,645.0 132.5,641.2 126.2,642.5 120.0,653.8 112.5,658.8 106.2,659.5 106.2,652.5 97.5,653.8 96.2,647.0 115.0,645.0 121.2,637.5 125.0,632.5" fill="#1e3a5f" stroke="#1e3a5f" stroke-width="0.6"/>
<polygon points="293.8,650.5 305.0,651.2 313.8,649.5 313.8,668.8 325.0,668.8 335.0,666.2 347.5,661.2 347.5,651.2 355.0,652.5 365.0,657.5 367.5,663.8 365.0,670.0 360.0,675.0 357.5,683.8 351.2,686.2 340.0,693.8 338.8,701.2 335.0,705.0 327.5,706.2 316.2,713.8 311.2,718.8 310.0,722.5 302.5,730.0 300.0,737.5 301.2,747.5 287.0,747.5 287.5,678.8 282.5,677.5 286.2,672.0 301.2,671.2 305.0,662.5 305.0,656.2 295.0,653.8" fill="#3a78e0" stroke="#3a78e0" stroke-width="0.6"/>
<polygon points="315.0,669.5 325.0,669.5 325.0,675.0 320.0,679.5 316.2,676.2" fill="#93c5fd" stroke="#93c5fd" stroke-width="0.6"/>
<polygon points="367.5,657.5 375.0,652.5 395.0,647.5 412.5,642.5 412.5,653.8 428.8,654.5 457.5,655.0 450.0,661.2 431.2,680.0 430.0,687.5 422.5,687.0 407.5,687.5 400.0,690.0 397.5,683.8 357.5,683.8 351.2,686.2 345.0,695.0 343.8,702.5 338.8,701.2 340.0,693.8 351.2,686.2 357.5,683.8 360.0,675.0 365.0,670.0 367.5,663.8" fill="#1e3a5f" stroke="#1e3a5f" stroke-width="0.6"/>
<polygon points="442.5,607.5 451.2,606.2 452.5,622.5 456.2,635.0 457.5,655.0 431.2,654.5 428.8,648.8 427.5,654.5 412.5,653.8 412.5,642.5 420.0,641.2 421.2,630.0 427.5,623.8 435.0,617.5" fill="#cc3333" stroke="#cc3333" stroke-width="0.6"/>
<polygon points="460.0,655.0 461.2,680.0 462.5,700.0 462.5,705.0 450.0,710.0 441.2,710.0 438.8,715.0 405.0,716.2 390.0,716.2 386.2,720.0 386.2,712.5 392.5,708.8 400.0,700.0 400.0,690.0 407.5,687.5 422.5,687.0 430.0,687.5 431.2,680.0 450.0,661.2 457.5,655.0" fill="#f57878" stroke="#f57878" stroke-width="0.6"/>
<polygon points="405.0,716.2 438.8,715.0 441.2,718.8 450.0,717.5 465.0,730.0 460.0,732.5 475.0,741.2 482.5,748.0 396.2,747.5 401.2,732.5" fill="#f78080" stroke="#f78080" stroke-width="0.6"/>
<polygon points="447.5,711.2 452.5,711.2 455.0,715.0 451.2,717.5 447.5,715.0" fill="#0a0809" stroke="#0a0809" stroke-width="0.6"/>
<polygon points="255.0,748.0 298.8,748.0 297.5,760.0 292.5,777.5 283.8,787.5 280.0,800.0 277.5,810.0 271.2,813.8 268.8,817.5 260.0,822.5 252.5,832.5 241.2,837.5 241.2,810.0 245.0,807.5 246.2,800.0 240.0,796.2 246.2,793.8 246.2,787.5 255.0,783.8 260.0,777.5 261.2,755.0" fill="#b52a2a" stroke="#b52a2a" stroke-width="0.6"/>
<polygon points="308.8,781.2 312.5,783.8 327.5,783.8 320.0,791.2 315.0,796.2 310.0,801.2 310.0,813.8 301.2,816.2 301.2,818.8 286.2,816.2 272.5,815.0 271.2,811.2 280.0,807.5 280.0,797.5 283.8,800.0 290.0,791.2 300.0,790.0" fill="#f98585" stroke="#f98585" stroke-width="0.6"/>
<polygon points="268.8,816.2 285.0,816.2 282.5,820.0 275.0,821.2 270.0,819.5" fill="#93c5fd" stroke="#93c5fd" stroke-width="0.6"/>
<polygon points="155.0,757.0 162.0,757.0 162.0,768.0 155.0,768.0" fill="#1e3a5f" stroke="#1e3a5f" stroke-width="0.6"/>
<polygon points="395.0,822.5 400.0,816.2 405.0,816.2 405.0,821.2 416.2,821.2 416.2,842.5 396.2,842.5" fill="#1e3a5f" stroke="#1e3a5f" stroke-width="0.6"/>
<polygon points="495.0,830.0 506.2,830.0 506.2,842.5 495.0,842.5" fill="#234a80" stroke="#234a80" stroke-width="0.6"/>
<polygon points="305.0,837.5 311.2,835.0 318.8,842.5 306.2,842.5" fill="#1e3a5f" stroke="#1e3a5f" stroke-width="0.6"/>
<polygon points="342.5,785.0 347.0,785.0 347.0,786.5 342.5,786.5" fill="#0a0809" stroke="#0a0809" stroke-width="0.6"/>
<polyline points="140.0,678.8 288.8,678.8" fill="none" stroke="#000" stroke-opacity="0.22" stroke-width="0.6"/>
<polyline points="140.0,678.8 138.8,749.5" fill="none" stroke="#000" stroke-opacity="0.22" stroke-width="0.6"/>
<polyline points="98.8,748.8 247.5,749.5 497.5,747.5" fill="none" stroke="#000" stroke-opacity="0.22" stroke-width="0.6"/>
<polyline points="112.5,660.0 112.5,690.0 115.0,706.2 138.8,710.0" fill="none" stroke="#000" stroke-opacity="0.22" stroke-width="0.6"/>
<polyline points="75.0,657.5 85.0,647.5 96.2,647.0" fill="none" stroke="#000" stroke-opacity="0.22" stroke-width="0.6"/>
<polyline points="351.2,748.0 351.2,840.0" fill="none" stroke="#000" stroke-opacity="0.22" stroke-width="0.6"/>
<polyline points="205.0,762.0 203.8,840.0" fill="none" stroke="#000" stroke-opacity="0.22" stroke-width="0.6"/>
<polyline points="205.0,762.0 212.5,757.5 247.5,755.0 247.5,748.0" fill="none" stroke="#000" stroke-opacity="0.22" stroke-width="0.6"/>
<polyline points="155.0,768.0 153.8,775.0 165.0,795.0 167.5,820.0 165.0,840.0" fill="none" stroke="#000" stroke-opacity="0.22" stroke-width="0.6"/>
<polyline points="107.5,775.0 140.0,775.0 153.8,768.0" fill="none" stroke="#000" stroke-opacity="0.22" stroke-width="0.6"/>
<polyline points="397.5,748.0 397.5,785.0 407.5,810.0 410.0,820.0" fill="none" stroke="#000" stroke-opacity="0.22" stroke-width="0.6"/>
<polyline points="418.8,755.0 420.0,785.0 425.0,810.0" fill="none" stroke="#000" stroke-opacity="0.22" stroke-width="0.6"/>
<polyline points="452.5,748.0 451.2,785.0" fill="none" stroke="#000" stroke-opacity="0.22" stroke-width="0.6"/>
<polyline points="351.2,785.0 372.5,782.5 397.5,785.0 420.0,785.0 451.2,786.2 465.0,787.5" fill="none" stroke="#000" stroke-opacity="0.22" stroke-width="0.6"/>
<polyline points="310.0,626.2 311.2,650.0" fill="none" stroke="#000" stroke-opacity="0.22" stroke-width="0.6"/>
<polyline points="310.0,626.2 327.5,627.5 352.5,636.2 375.0,645.0 395.0,645.0" fill="none" stroke="#000" stroke-opacity="0.22" stroke-width="0.6"/>
<polyline points="348.8,710.0 357.5,702.5 365.0,695.0 370.0,685.0" fill="none" stroke="#000" stroke-opacity="0.22" stroke-width="0.6"/>
<polyline points="350.0,720.0 350.0,748.0" fill="none" stroke="#000" stroke-opacity="0.22" stroke-width="0.6"/>
<polyline points="475.0,665.0 482.5,675.0 480.0,690.0 475.0,700.0 477.5,720.0 490.0,730.0 497.5,735.0" fill="none" stroke="#000" stroke-opacity="0.22" stroke-width="0.6"/>
<polyline points="460.0,655.0 497.5,656.2" fill="none" stroke="#000" stroke-opacity="0.22" stroke-width="0.6"/>
<polyline points="203.8,820.0 220.0,816.2 241.2,813.8" fill="none" stroke="#000" stroke-opacity="0.22" stroke-width="0.6"/>
<polyline points="351.2,812.5 372.5,810.0 397.5,812.5" fill="none" stroke="#000" stroke-opacity="0.22" stroke-width="0.6"/>
<polyline points="490.0,762.0 491.2,790.0 500.0,795.0 515.0,797.5" fill="none" stroke="#000" stroke-opacity="0.22" stroke-width="0.6"/>
<polyline points="452.5,787.5 465.0,800.0 477.5,820.0 497.5,830.0" fill="none" stroke="#000" stroke-opacity="0.22" stroke-width="0.6"/>
</g>
<g clip-path="url(#c3)">
<polygon points="130.0,832.5 522.5,832.5 522.5,907.0 465.0,904.5 350.0,899.2 255.0,895.0 161.2,890.8 155.0,883.8 150.0,876.2 142.5,875.0 141.2,867.5 137.5,860.0 133.8,850.0 136.2,840.0 132.5,832.5" fill="#991b1b" stroke="#991b1b" stroke-width="0.6"/>
<polygon points="255.0,895.5 254.5,870.0 257.5,862.5 263.8,857.5 272.5,854.5 281.2,853.8 283.8,850.0 295.0,846.2 305.0,841.2 306.2,837.5 311.2,835.5 317.5,837.5 322.5,842.5 325.0,848.8 332.5,853.8 340.0,857.5 346.2,857.5 350.0,860.0 350.0,899.8" fill="#1e3a5f" stroke="#1e3a5f" stroke-width="0.6"/>
<polygon points="395.0,827.5 400.0,817.5 405.0,816.2 405.0,821.2 416.2,821.2 416.2,840.0 407.5,841.2 400.0,840.0 396.2,833.8" fill="#1e3a5f" stroke="#1e3a5f" stroke-width="0.6"/>
<polygon points="495.0,830.0 506.2,829.5 507.0,840.0 508.8,845.0 507.5,851.2 503.8,852.5 501.2,850.0 495.0,851.2 492.5,847.5 495.5,840.0" fill="#1e3a5f" stroke="#1e3a5f" stroke-width="0.6"/>
<polygon points="470.5,855.5 477.5,855.0 478.8,860.0 476.2,862.5 471.2,861.2" fill="#0a0809" stroke="#0a0809" stroke-width="0.6"/>
<polyline points="350.0,860.0 351.2,835.0" fill="none" stroke="#000" stroke-opacity="0.22" stroke-width="0.6"/>
<polyline points="465.0,840.0 465.5,904.5" fill="none" stroke="#000" stroke-opacity="0.22" stroke-width="0.6"/>
<polyline points="350.0,842.5 367.5,841.2 372.5,847.5 387.5,850.0 400.0,843.8" fill="none" stroke="#000" stroke-opacity="0.22" stroke-width="0.6"/>
<polyline points="367.5,852.5 375.0,860.0 376.2,870.0 385.0,877.5 395.0,880.0 397.5,890.0 388.8,900.0" fill="none" stroke="#000" stroke-opacity="0.22" stroke-width="0.6"/>
<polyline points="400.0,843.8 407.5,857.5 410.0,877.5 397.5,890.0" fill="none" stroke="#000" stroke-opacity="0.22" stroke-width="0.6"/>
<polyline points="410.0,877.5 430.0,862.5 450.0,855.0 465.0,853.8" fill="none" stroke="#000" stroke-opacity="0.22" stroke-width="0.6"/>
<polyline points="465.0,872.5 480.0,873.8 495.0,880.0 505.0,885.0 520.0,880.0" fill="none" stroke="#000" stroke-opacity="0.22" stroke-width="0.6"/>
<polyline points="240.0,835.0 241.2,857.5 257.5,855.0" fill="none" stroke="#000" stroke-opacity="0.22" stroke-width="0.6"/>
<polyline points="152.5,837.5 190.0,836.2 200.0,825.0" fill="none" stroke="#000" stroke-opacity="0.22" stroke-width="0.6"/>
<polyline points="152.5,837.5 153.8,852.5 140.0,860.0" fill="none" stroke="#000" stroke-opacity="0.22" stroke-width="0.6"/>
<polyline points="162.5,872.5 190.0,870.0 215.0,861.2 240.0,859.5" fill="none" stroke="#000" stroke-opacity="0.22" stroke-width="0.6"/>
<polyline points="160.0,876.2 170.0,871.2" fill="none" stroke="#000" stroke-opacity="0.22" stroke-width="0.6"/>
<polyline points="190.0,836.2 187.5,852.5 175.0,865.0 165.0,870.0" fill="none" stroke="#000" stroke-opacity="0.22" stroke-width="0.6"/>
</g>
<g clip-path="url(#c4)">
<polygon points="516.7,58.0 540.0,58.0 546.7,54.2 553.3,58.3 560.0,63.3 570.0,65.8 576.7,69.2 577.5,74.2 581.7,78.3 596.7,78.3 606.7,85.0 610.0,90.0 613.3,90.8 625.8,81.7 628.3,87.5 631.7,90.0 633.3,85.8 640.0,85.0 643.3,80.8 656.7,78.3 658.3,86.7 655.0,91.7 652.5,96.7 654.2,110.0 650.0,120.0 652.5,128.3 655.0,130.0 663.3,131.7 670.0,131.7 673.3,138.3 676.7,150.0 679.2,160.0 678.3,163.3 658.3,164.2 656.7,163.3 645.0,160.8 635.0,149.2 626.7,147.5 620.0,147.5 611.7,145.8 610.0,143.3 607.5,143.3 609.2,151.7 606.7,160.0 606.7,185.0 600.0,182.5 595.8,183.3 595.8,190.8 585.0,191.7 581.7,190.0 581.7,211.7 516.7,211.7" fill="#991b1b" stroke="#991b1b" stroke-width="0.6"/>
<polygon points="576.7,69.2 588.3,67.5 589.2,64.2 596.7,63.3 597.5,54.2 602.5,56.7 610.0,58.3 611.7,54.2 619.2,53.3 630.0,55.0 630.0,50.0 633.3,46.7 630.8,42.5 653.3,42.5 661.7,51.7 667.5,46.7 680.0,60.0 685.0,58.3 696.7,68.3 695.0,75.8 661.7,100.8 656.7,98.3 653.3,100.0 652.5,96.7 655.0,91.7 658.3,86.7 656.7,78.3 643.3,80.8 640.0,85.0 633.3,85.8 631.7,90.0 628.3,87.5 625.8,81.7 613.3,90.8 610.0,90.0 606.7,85.0 596.7,78.3 581.7,78.3 577.5,74.2" fill="#1e3a5f" stroke="#1e3a5f" stroke-width="0.6"/>
<polygon points="619.2,54.2 629.2,55.8 629.2,60.0 623.3,58.3" fill="#3e84f5" stroke="#3e84f5" stroke-width="0.6"/>
<polygon points="631.7,50.0 640.0,54.2 639.2,55.3 631.7,51.3" fill="#6ba8fb" stroke="#6ba8fb" stroke-width="0.6"/>
<polygon points="625.8,82.0 628.3,87.5 630.0,91.7 623.3,103.3 616.7,113.3 614.2,118.3 600.8,118.0 604.2,108.3 610.0,95.0 616.7,88.3" fill="#f25a5a" stroke="#f25a5a" stroke-width="0.6"/>
<polygon points="604.2,135.0 615.0,134.2 618.3,137.5 630.0,137.5 630.0,141.7 626.7,147.5 620.0,147.5 611.7,145.8 610.0,140.8 604.2,140.0" fill="#f47a7a" stroke="#f47a7a" stroke-width="0.6"/>
<polygon points="630.8,135.3 636.7,135.0 638.3,139.2 642.5,144.2 648.3,145.0 646.7,155.8 645.0,155.0 635.0,149.2 633.3,147.5 626.7,147.5 627.5,144.2 630.0,141.7" fill="#3e84f5" stroke="#3e84f5" stroke-width="0.6"/>
<polygon points="636.7,135.0 648.3,130.0 658.3,130.0 660.8,135.8 663.3,140.0 670.0,145.0 671.7,150.0 670.8,155.0 666.7,156.7 663.3,161.7 658.3,161.7 656.7,163.3 645.0,160.8 646.7,155.8 648.3,145.0 642.5,144.2 638.3,139.2" fill="#1e3a5f" stroke="#1e3a5f" stroke-width="0.6"/>
<polygon points="513.3,147.5 525.0,160.0 519.2,165.8 519.2,172.5 515.8,173.3 515.8,168.3 513.3,170.0" fill="#60a2fa" stroke="#60a2fa" stroke-width="0.6"/>
<polygon points="513.3,170.0 515.8,168.3 515.8,173.3 519.2,172.5 519.2,165.8 525.0,160.0 543.3,150.0 550.0,153.3 555.0,160.0 563.3,163.3 576.7,164.2 585.0,166.7 585.8,169.2 581.7,170.0 581.7,172.5 577.5,173.3 576.7,178.3 580.0,181.7 581.7,190.0 581.7,206.7 576.7,210.0 576.7,211.7 513.3,211.7" fill="#1e3a5f" stroke="#1e3a5f" stroke-width="0.6"/>
<polygon points="513.3,191.3 523.3,190.8 526.7,190.0 526.7,200.0 528.3,195.0 540.0,195.0 546.7,198.3 556.7,205.0 559.2,211.7 513.3,211.7" fill="#2d5fa8" stroke="#2d5fa8" stroke-width="0.6"/>
<polygon points="555.8,137.5 560.8,137.5 556.7,140.8" fill="#0a0809" stroke="#0a0809" stroke-width="0.6"/>
<polyline points="540.0,58.0 540.8,69.2 550.0,77.5 556.7,86.7 563.3,93.3 571.7,103.3 585.0,108.3 598.3,116.7" fill="none" stroke="#000" stroke-opacity="0.22" stroke-width="0.6"/>
<polyline points="550.0,77.5 533.3,80.0 516.7,93.3 500.0,105.8" fill="none" stroke="#000" stroke-opacity="0.22" stroke-width="0.6"/>
<polyline points="529.2,94.2 530.0,105.0 543.3,111.7 556.7,116.7 555.0,130.0 540.0,136.7 523.3,140.0" fill="none" stroke="#000" stroke-opacity="0.22" stroke-width="0.6"/>
<polyline points="556.7,111.7 570.0,113.3 583.3,109.2" fill="none" stroke="#000" stroke-opacity="0.22" stroke-width="0.6"/>
<polyline points="579.2,80.0 584.2,87.5 578.3,93.3 585.0,96.7 584.2,103.3 589.2,106.7" fill="none" stroke="#000" stroke-opacity="0.22" stroke-width="0.6"/>
<polyline points="598.3,116.7 588.3,119.2 556.7,143.3 543.3,150.0" fill="none" stroke="#000" stroke-opacity="0.22" stroke-width="0.6"/>
<polyline points="596.7,118.3 593.3,130.0 585.0,138.3 580.0,151.7" fill="none" stroke="#000" stroke-opacity="0.22" stroke-width="0.6"/>
<polyline points="613.3,118.3 611.7,130.0 611.7,133.3" fill="none" stroke="#000" stroke-opacity="0.22" stroke-width="0.6"/>
<polyline points="614.2,120.0 626.7,125.8 640.0,127.5 648.3,130.0" fill="none" stroke="#000" stroke-opacity="0.22" stroke-width="0.6"/>
<polyline points="556.7,143.3 581.7,145.0 600.0,148.3 607.5,149.2" fill="none" stroke="#000" stroke-opacity="0.22" stroke-width="0.6"/>
<polyline points="592.5,152.5 591.7,163.3 586.7,168.3" fill="none" stroke="#000" stroke-opacity="0.22" stroke-width="0.6"/>
<polyline points="543.3,150.0 533.3,176.7 526.7,190.0" fill="none" stroke="#000" stroke-opacity="0.22" stroke-width="0.6"/>
<polyline points="540.0,176.7 556.7,190.0 571.7,198.3 576.7,200.0" fill="none" stroke="#000" stroke-opacity="0.22" stroke-width="0.6"/>
</g>
<g clip-path="url(#c5)">
<polygon points="491.7,208.3 561.7,208.3 561.7,235.0 558.3,235.8 555.0,236.7 546.7,240.0 545.0,252.5 533.3,255.0 520.0,255.8 511.7,260.0 508.3,267.5 491.7,266.7 485.8,263.3 481.7,256.7 484.2,245.0 487.5,241.7 480.8,235.0 485.0,231.7 490.0,217.5" fill="#2d5fa8" stroke="#2d5fa8" stroke-width="0.6"/>
<polygon points="558.0,208.3 565.0,208.3 565.0,217.0 558.0,217.0" fill="#0a0809" stroke="#0a0809" stroke-width="0.6"/>
<polygon points="565.0,208.3 577.0,208.3 577.0,214.2 570.0,215.0 569.2,217.5 565.0,217.5" fill="#1e3a5f" stroke="#1e3a5f" stroke-width="0.6"/>
<polygon points="558.3,235.8 561.7,235.0 561.7,239.2 555.0,240.0 555.0,248.3 558.3,249.2 557.5,275.0 538.3,275.8 535.0,280.0 523.3,286.7 511.7,291.7 506.7,300.0 491.7,311.7 486.7,321.7 481.7,320.0 480.8,311.7 477.5,306.7 477.5,293.3 480.8,288.3 480.8,270.0 485.8,266.7 485.8,263.3 491.7,266.7 508.3,267.5 511.7,260.0 520.0,255.8 533.3,255.0 545.0,252.5 546.7,240.0 555.0,236.7" fill="#1e3a5f" stroke="#1e3a5f" stroke-width="0.6"/>
<polygon points="486.7,321.7 491.7,311.7 506.7,300.0 511.7,291.7 523.3,286.7 535.0,280.0 538.3,275.8 565.0,275.8 570.0,284.2 568.3,292.5 573.3,295.0 570.0,300.8 571.7,302.5 565.0,304.2 565.0,311.7 560.0,312.5 556.7,316.7 546.7,320.8 541.7,323.3 536.7,313.3 532.5,316.7 523.3,320.8 515.8,322.5 515.0,326.7 506.7,328.3 506.7,341.7 510.0,348.3 513.3,355.8 506.7,356.7 503.3,351.7 498.3,346.7 493.3,340.0 493.3,336.7 488.3,330.0" fill="#f16363" stroke="#f16363" stroke-width="0.6"/>
<polygon points="506.7,328.3 515.0,326.7 515.8,322.5 523.3,320.8 532.5,316.7 536.7,313.3 541.7,323.3 546.7,320.8 556.7,316.7 560.0,312.5 565.0,311.7 565.0,320.0 568.3,328.3 573.3,332.5 568.3,338.3 573.3,339.2 566.7,342.5 560.8,343.3 563.3,345.8 569.2,346.7 571.7,351.7 565.0,354.2 556.7,356.7 548.3,353.3 538.3,351.7 530.8,353.3 529.2,365.8 518.3,367.5 515.8,361.7 510.0,364.2 504.2,360.8 506.7,356.7 513.3,355.8 510.0,348.3 506.7,341.7" fill="#93c5fd" stroke="#93c5fd" stroke-width="0.6"/>
<polygon points="565.0,304.2 571.7,302.5 576.7,298.3 583.3,297.5 585.0,300.0 591.7,299.2 595.0,311.7 598.3,309.2 606.7,300.8 619.2,301.3 610.0,305.0 610.0,308.3 614.2,310.8 618.3,319.2 618.3,324.2 610.0,329.2 610.0,346.7 605.0,346.7 600.8,340.8 591.7,340.8 589.2,336.7 580.0,337.5 570.0,338.3 573.3,332.5 568.3,328.3 565.0,320.0" fill="#991b1b" stroke="#991b1b" stroke-width="0.6"/>
<polygon points="565.0,275.8 607.5,275.8 607.5,278.3 614.2,278.3 614.2,276.2 651.7,276.2 651.7,290.0 648.3,290.8 648.3,294.2 651.7,295.0 650.8,324.2 640.0,326.7 631.7,329.2 623.3,329.2 618.3,324.2 618.3,319.2 614.2,310.8 610.0,308.3 610.0,305.0 619.2,301.3 606.7,300.8 598.3,309.2 595.0,311.7 591.7,299.2 585.0,300.0 583.3,297.5 576.7,298.3 571.7,302.5 570.0,300.8 573.3,295.0 568.3,292.5 570.0,284.2" fill="#e5e5ea" stroke="#e5e5ea" stroke-width="0.6"/>
<polygon points="504.2,360.8 510.0,364.2 515.8,361.7 518.3,367.5 529.2,365.8 530.8,353.3 538.3,351.7 548.3,353.3 556.7,356.7 565.0,354.2 571.7,351.7 569.2,346.7 563.3,345.8 560.8,343.3 566.7,342.5 573.3,339.2 570.0,338.3 580.0,337.5 589.2,336.7 591.7,340.8 600.8,340.8 605.0,346.7 610.0,346.7 610.0,329.2 618.3,324.2 623.3,329.2 631.7,329.2 640.0,326.7 650.8,324.2 650.0,377.5 514.2,376.7 510.0,370.8 506.7,370.0 506.7,365.0" fill="#f57070" stroke="#f57070" stroke-width="0.6"/>
<polygon points="503.3,351.7 506.7,356.7 504.2,360.8 506.7,365.0 506.7,370.0 510.0,370.8 514.2,376.7 517.5,391.7 503.3,391.7" fill="#991b1b" stroke="#991b1b" stroke-width="0.6"/>
</g>
<g clip-path="url(#c6)">
<polygon points="513.3,388.3 518.3,388.3 523.3,400.0 526.7,406.7 527.5,413.3 529.2,418.3 528.3,423.3 513.3,423.3" fill="#991b1b" stroke="#991b1b" stroke-width="0.6"/>
<polygon points="513.3,423.3 527.5,423.3 525.0,430.0 525.8,435.0 526.7,441.7 522.5,445.0 520.8,447.5 513.3,450.0" fill="#ee4444" stroke="#ee4444" stroke-width="0.6"/>
</g>
<g clip-path="url(#c7)">
<polygon points="513.3,762.0 578.3,763.3 578.3,767.5 583.3,767.5 583.3,763.7 600.8,764.2 600.0,791.7 599.2,816.7 598.3,838.0 599.2,850.0 600.3,866.7 598.3,911.3 543.3,908.0 513.3,905.8" fill="#991b1b" stroke="#991b1b" stroke-width="0.6"/>
<polygon points="576.7,835.0 585.0,836.7 598.3,838.0 599.2,850.0 600.3,866.7 598.3,911.3 543.3,908.0 541.7,900.0 540.0,891.7 535.0,879.2 541.7,872.5 548.3,866.7 553.3,860.0 556.7,851.7 563.3,843.3 576.7,843.0" fill="#e84444" stroke="#e84444" stroke-width="0.6"/>
<polyline points="521.7,764.2 520.8,771.7 523.3,783.3 525.0,785.8 533.3,787.5 546.7,790.0 556.7,789.2 565.0,787.5 573.3,778.3 578.3,767.5" fill="none" stroke="#000" stroke-opacity="0.22" stroke-width="0.6"/>
<polyline points="525.0,785.8 520.0,793.3 511.7,798.3 513.3,801.7 518.3,803.3 519.2,807.5 518.3,830.0" fill="none" stroke="#000" stroke-opacity="0.22" stroke-width="0.6"/>
<polyline points="519.2,807.5 541.7,807.5 542.5,812.5 556.7,812.5 556.7,808.3 559.2,806.7 560.0,802.5 565.0,801.7 565.0,787.5" fill="none" stroke="#000" stroke-opacity="0.22" stroke-width="0.6"/>
<polyline points="565.0,787.5 582.5,793.3 582.5,806.7 585.0,813.3 591.7,813.3 593.3,815.8 599.2,816.7" fill="none" stroke="#000" stroke-opacity="0.22" stroke-width="0.6"/>
<polyline points="556.7,812.5 561.7,814.2 559.2,816.7 559.2,825.0 560.0,833.3 558.3,838.3 563.3,843.3" fill="none" stroke="#000" stroke-opacity="0.22" stroke-width="0.6"/>
<polyline points="559.2,816.7 570.0,813.3 585.0,813.3" fill="none" stroke="#000" stroke-opacity="0.22" stroke-width="0.6"/>
<polyline points="571.7,814.2 576.7,825.0 560.0,825.8" fill="none" stroke="#000" stroke-opacity="0.22" stroke-width="0.6"/>
<polyline points="518.3,837.5 526.7,836.7 541.7,837.5 558.3,838.3" fill="none" stroke="#000" stroke-opacity="0.22" stroke-width="0.6"/>
<polyline points="520.0,850.0 525.0,858.3 535.0,879.2" fill="none" stroke="#000" stroke-opacity="0.22" stroke-width="0.6"/>
<polyline points="535.0,879.2 530.0,886.7 518.3,887.5 513.3,881.7 506.7,877.5" fill="none" stroke="#000" stroke-opacity="0.22" stroke-width="0.6"/>
<polyline points="518.3,830.0 520.0,838.3 520.0,850.0" fill="none" stroke="#000" stroke-opacity="0.22" stroke-width="0.6"/>
</g>
<g clip-path="url(#c8)">
<polygon points="398.3,118.3 721.7,118.3 721.7,301.7 398.3,301.7" fill="#0a0809" stroke="#0a0809" stroke-width="0.6"/>
<polygon points="398.3,118.3 420.8,120.0 425.0,122.5 433.3,123.3 441.7,121.7 450.0,124.2 455.8,121.7 457.5,125.0 463.3,132.5 470.0,140.8 475.0,140.8 470.8,145.0 470.8,155.0 473.3,160.0 476.7,165.0 480.0,170.0 485.0,173.3 490.0,175.0 493.3,177.5 496.7,180.0 496.7,182.5 477.5,182.5 477.5,187.5 485.0,188.3 485.0,193.3 490.0,194.2 490.0,200.0 491.7,205.0 490.8,213.3 486.7,225.0 481.7,234.2 486.7,236.7 487.5,243.3 482.5,248.3 481.7,255.0 485.8,258.3 485.8,263.3 481.7,270.0 478.3,269.2 471.7,265.8 456.7,262.5 448.3,262.5 435.8,268.3 435.8,273.3 437.5,280.0 440.0,286.7 435.8,295.0 430.0,301.7 398.3,301.7" fill="#991b1b" stroke="#991b1b" stroke-width="0.6"/>
<polygon points="495.0,118.3 650.0,118.3 653.3,126.7 640.0,134.2 630.0,135.8 623.3,136.7 613.3,135.0 604.2,135.8 604.2,140.0 610.0,140.8 610.8,144.2 608.3,145.0 606.7,160.0 606.7,185.0 596.7,181.7 595.8,191.7 583.3,191.7 580.8,189.2 580.8,181.7 577.5,176.7 579.2,173.3 583.3,170.0 585.8,167.5 576.7,164.2 564.2,163.7 556.7,161.7 551.7,155.8 545.0,150.8 536.7,155.8 528.3,160.0 524.2,159.2 516.7,153.3 511.7,148.3 508.3,150.8 505.0,147.5 504.2,141.7 500.0,136.7 495.8,135.0 500.0,131.7" fill="#991b1b" stroke="#991b1b" stroke-width="0.6"/>
<polygon points="660.0,134.2 668.3,131.7 671.7,136.7 675.0,145.0 676.7,153.3 679.2,164.2 659.2,165.0 666.7,160.0 671.7,151.7 670.0,145.0 663.3,140.0" fill="#991b1b" stroke="#991b1b" stroke-width="0.6"/>
<polygon points="420.8,118.3 495.0,118.3 500.0,131.7 495.8,135.0 500.0,136.7 504.2,141.7 505.0,147.5 508.3,150.8 511.7,148.3 516.7,153.3 524.2,159.2 525.0,160.8 519.2,165.8 519.2,173.3 515.8,173.3 515.8,169.2 496.7,180.8 493.3,177.5 490.0,175.0 485.0,173.3 480.0,170.0 476.7,165.0 473.3,160.0 470.8,155.0 470.8,145.0 475.0,140.8 470.0,140.8 463.3,132.5 457.5,125.0 455.8,121.7 450.0,124.2 441.7,121.7 433.3,123.3 425.0,122.5" fill="#60a2fa" stroke="#60a2fa" stroke-width="0.6"/>
<polygon points="496.7,180.8 515.8,169.2 515.8,173.3 519.2,173.3 519.2,165.8 525.0,160.8 528.3,160.0 536.7,155.8 545.0,150.8 551.7,155.8 556.7,161.7 564.2,163.7 576.7,164.2 585.8,167.5 583.3,170.0 579.2,173.3 577.5,176.7 580.8,181.7 580.8,189.2 583.3,191.7 583.3,195.0 577.5,195.8 576.7,213.3 570.0,215.0 569.2,217.5 565.0,217.5 565.0,210.0 558.3,209.2 558.3,205.0 546.7,198.3 538.3,195.0 528.3,195.0 527.5,200.0 525.0,200.0 526.7,190.8 510.0,191.7 506.7,189.2 503.3,191.7 490.0,191.7 490.0,194.2 485.0,193.3 493.3,186.7 496.7,182.5" fill="#1e3a5f" stroke="#1e3a5f" stroke-width="0.6"/>
<polygon points="490.0,191.7 503.3,191.7 506.7,189.2 510.0,191.7 526.7,190.8 525.0,200.0 527.5,200.0 528.3,195.0 538.3,195.0 546.7,198.3 558.3,205.0 558.3,216.7 561.7,217.5 561.7,235.0 555.0,236.7 546.7,239.2 545.0,248.3 543.3,252.5 530.0,255.0 520.0,255.8 515.0,258.3 510.0,264.2 506.7,267.5 500.0,267.5 498.3,265.8 490.8,266.7 486.7,262.5 485.8,258.3 481.7,255.0 482.5,248.3 487.5,243.3 486.7,236.7 481.7,234.2 486.7,225.0 490.8,213.3 491.7,205.0 490.0,200.0" fill="#2d5fa8" stroke="#2d5fa8" stroke-width="0.6"/>
<polygon points="561.7,235.0 561.7,240.0 554.2,240.8 554.2,248.3 558.3,249.2 557.5,275.8 538.3,276.7 533.3,282.5 525.0,286.7 516.7,293.3 510.0,301.7 476.7,301.7 478.3,286.7 480.8,280.0 480.8,270.0 485.8,263.3 486.7,262.5 490.8,266.7 498.3,265.8 500.0,267.5 506.7,267.5 510.0,264.2 515.0,258.3 520.0,255.8 530.0,255.0 543.3,252.5 545.0,248.3 546.7,239.2 555.0,236.7" fill="#1e3a5f" stroke="#1e3a5f" stroke-width="0.6"/>
<polygon points="435.8,268.3 448.3,262.5 456.7,262.5 471.7,265.8 478.3,269.2 480.8,270.0 480.8,280.0 478.3,286.7 476.7,301.7 430.0,301.7 435.8,295.0 440.0,286.7 437.5,280.0 435.8,273.3" fill="#3b82f6" stroke="#3b82f6" stroke-width="0.6"/>
<polygon points="398.3,166.7 406.7,165.8 410.8,168.3 415.0,163.3 421.7,160.0 433.3,158.7 439.2,161.7 441.7,166.7 439.2,170.0 440.8,173.3 438.3,177.5 439.2,180.0 420.0,181.3 414.2,179.2 410.0,173.3 403.3,171.7 402.5,175.0 398.3,175.8" fill="#1e3a5f" stroke="#1e3a5f" stroke-width="0.6"/>
<polygon points="604.2,135.8 613.3,135.0 618.3,137.5 630.0,136.7 630.0,141.7 626.7,147.5 620.0,146.7 611.7,145.8 610.8,140.8 604.2,140.0" fill="#f47a7a" stroke="#f47a7a" stroke-width="0.6"/>
<polygon points="630.0,135.8 636.7,135.0 638.3,139.2 642.5,144.2 648.3,145.0 645.8,155.8 635.0,149.2 633.3,147.5 626.7,147.5 630.0,141.7" fill="#3b82f6" stroke="#3b82f6" stroke-width="0.6"/>
<polygon points="636.7,135.0 648.3,130.0 658.3,129.7 660.8,135.8 663.3,140.0 670.0,145.0 671.7,151.7 666.7,160.0 659.2,165.0 656.7,163.3 645.8,160.8 645.8,155.8 648.3,145.0 642.5,144.2 638.3,139.2" fill="#1e3a5f" stroke="#1e3a5f" stroke-width="0.6"/>
<polygon points="538.3,275.3 565.0,275.3 570.0,283.3 568.3,292.5 573.3,295.0 570.0,301.7 506.7,301.7 513.3,291.7 523.3,285.8 531.7,281.7" fill="#f16363" stroke="#f16363" stroke-width="0.6"/>
<polygon points="565.0,275.3 607.5,275.7 607.5,278.0 614.2,278.0 614.2,276.0 651.7,276.3 651.7,290.0 648.3,290.8 648.3,294.2 651.7,295.0 651.7,301.7 570.0,301.7 573.3,295.0 568.3,292.5 570.0,283.3" fill="#e5e5ea" stroke="#e5e5ea" stroke-width="0.6"/>
<polygon points="576.7,298.3 583.3,297.5 588.3,301.7 576.7,301.7" fill="#991b1b" stroke="#991b1b" stroke-width="0.6"/>
<polygon points="555.8,137.5 560.8,137.5 556.7,140.8" fill="#0a0809" stroke="#0a0809" stroke-width="0.6"/>
<polyline points="400.0,138.3 408.3,140.0 405.0,145.0 403.3,150.0 406.7,155.0 423.3,154.2" fill="none" stroke="#000" stroke-opacity="0.22" stroke-width="0.6"/>
<polyline points="431.7,186.7 433.3,191.7 445.0,191.7 450.0,191.7 421.7,232.5 400.0,233.0" fill="none" stroke="#000" stroke-opacity="0.22" stroke-width="0.6"/>
<polyline points="450.0,191.7 455.0,188.3 476.7,185.0" fill="none" stroke="#000" stroke-opacity="0.22" stroke-width="0.6"/>
<polyline points="496.7,120.0 506.7,126.7 503.3,131.7" fill="none" stroke="#000" stroke-opacity="0.22" stroke-width="0.6"/>
<polyline points="520.0,146.7 523.3,141.7 538.3,136.7 550.0,130.0 555.0,120.0" fill="none" stroke="#000" stroke-opacity="0.22" stroke-width="0.6"/>
<polyline points="520.0,146.7 531.7,147.5 533.3,152.5 528.3,154.2" fill="none" stroke="#000" stroke-opacity="0.22" stroke-width="0.6"/>
<polyline points="585.0,120.0 556.7,140.8 545.0,150.8" fill="none" stroke="#000" stroke-opacity="0.22" stroke-width="0.6"/>
<polyline points="556.7,142.5 580.0,145.0 608.3,150.0" fill="none" stroke="#000" stroke-opacity="0.22" stroke-width="0.6"/>
<polyline points="596.7,120.0 593.3,135.0 583.3,145.0 580.0,152.5" fill="none" stroke="#000" stroke-opacity="0.22" stroke-width="0.6"/>
<polyline points="608.3,150.0 593.3,152.5 591.7,161.7 585.8,167.5" fill="none" stroke="#000" stroke-opacity="0.22" stroke-width="0.6"/>
<polyline points="611.7,124.2 625.0,128.3 638.3,127.5 650.0,126.7" fill="none" stroke="#000" stroke-opacity="0.22" stroke-width="0.6"/>
<polyline points="616.7,120.0 611.7,124.2 610.8,135.0" fill="none" stroke="#000" stroke-opacity="0.22" stroke-width="0.6"/>
<polyline points="525.0,160.8 538.3,164.2 543.3,170.0 536.7,175.8 530.0,181.7 526.7,190.8" fill="none" stroke="#000" stroke-opacity="0.22" stroke-width="0.6"/>
<polyline points="540.8,175.0 550.0,186.7 560.0,193.3 568.3,198.3 576.7,200.0" fill="none" stroke="#000" stroke-opacity="0.22" stroke-width="0.6"/>
<polyline points="412.5,273.3 412.5,300.0" fill="none" stroke="#000" stroke-opacity="0.22" stroke-width="0.6"/>
<polyline points="400.0,273.3 412.5,273.3" fill="none" stroke="#000" stroke-opacity="0.22" stroke-width="0.6"/>
<polyline points="486.7,270.0 508.3,268.3" fill="none" stroke="#000" stroke-opacity="0.22" stroke-width="0.6"/>
<polyline points="486.7,276.7 495.0,278.3 510.0,293.3" fill="none" stroke="#000" stroke-opacity="0.22" stroke-width="0.6"/>
</g>
<g clip-path="url(#c9)">
<polygon points="58.8,138.8 301.2,138.8 301.2,276.2 58.8,276.2" fill="#0a0809" stroke="#0a0809" stroke-width="0.6"/>
<polygon points="215.0,191.2 222.5,186.9 231.2,186.2 237.5,183.1 248.8,180.6 248.8,195.0 241.2,195.0 241.2,276.2 135.0,276.2 132.5,272.5 125.0,268.8 116.2,265.6 107.5,263.1 105.0,258.8 106.2,255.0 113.8,248.8 115.0,242.5 120.0,241.2 125.0,242.5 131.2,240.0 137.5,236.9 142.5,235.0 150.0,232.5 155.0,228.8 163.8,227.5 177.5,227.5 182.5,224.4 187.5,226.9 191.2,225.0 198.1,224.4 199.4,220.0 203.8,213.8 208.8,207.5 211.9,198.8 215.0,192.5" fill="#b42828" stroke="#b42828" stroke-width="0.6"/>
<polygon points="226.9,138.8 234.4,138.8 233.1,147.5 235.0,152.5 240.0,157.5 272.5,158.1 271.2,162.5 266.2,163.8 260.0,170.0 256.2,176.2 250.0,180.0 248.8,180.6 237.5,183.1 231.2,186.2 233.1,182.5 234.4,176.2 236.9,169.0 227.5,168.8 226.9,161.2" fill="#991b1b" stroke="#991b1b" stroke-width="0.6"/>
<polygon points="241.2,195.0 248.8,195.0 248.8,180.6 250.0,180.0 260.0,180.0 265.0,183.1 272.5,183.8 278.8,181.2 280.0,176.2 286.2,175.0 290.0,176.2 301.2,176.2 301.2,245.0 291.2,244.4 272.5,243.8 255.0,244.4 247.5,247.5 245.0,248.8 243.8,253.8 241.2,255.0" fill="#991b1b" stroke="#991b1b" stroke-width="0.6"/>
<polygon points="241.2,255.0 243.8,253.8 245.0,248.8 247.5,247.5 255.0,244.4 272.5,243.8 291.2,244.4 301.2,245.0 301.2,276.2 241.2,276.2" fill="#254e8b" stroke="#254e8b" stroke-width="0.6"/>
<polygon points="298.1,260.0 301.2,258.8 301.2,263.8 298.8,263.1" fill="#0a0809" stroke="#0a0809" stroke-width="0.6"/>
<polygon points="234.4,138.8 270.0,138.8 271.2,145.0 273.1,152.5 272.5,158.1 240.0,157.5 235.0,152.5 233.1,147.5" fill="#dc3b3b" stroke="#dc3b3b" stroke-width="0.6"/>
<polygon points="270.0,138.8 297.5,138.8 297.5,147.5 295.0,152.5 291.2,149.4 286.2,148.8 282.5,152.5 280.0,155.0 273.1,154.4 271.2,145.0" fill="#1e3a5f" stroke="#1e3a5f" stroke-width="0.6"/>
<polygon points="272.5,158.1 273.1,154.4 280.0,155.0 282.5,152.5 286.2,148.8 291.2,149.4 295.0,152.5 297.5,156.2 301.2,158.8 301.2,176.2 290.0,176.2 286.2,175.0 280.0,176.2 278.8,181.2 272.5,183.8 265.0,183.1 260.0,180.0 250.0,180.0 256.2,176.2 260.0,170.0 266.2,163.8 271.2,162.5" fill="#2f63b8" stroke="#2f63b8" stroke-width="0.6"/>
<polygon points="297.5,138.8 301.2,138.8 301.2,158.8 297.5,156.2 297.5,147.5" fill="#6ba8fb" stroke="#6ba8fb" stroke-width="0.6"/>
<polygon points="160.0,161.2 226.9,161.2 227.5,168.8 236.9,169.0 234.4,176.2 233.1,182.5 231.2,186.2 222.5,186.9 215.0,191.2 211.9,198.8 208.8,207.5 203.8,213.8 199.4,220.0 198.1,224.4 191.2,225.0 187.5,226.9 182.5,224.4 177.5,227.5 180.0,223.8 183.1,221.2 185.0,216.2 183.8,211.2 185.0,208.1 185.6,205.0 183.1,202.5 180.0,197.5 175.0,196.2 172.5,191.2 168.8,188.8 163.8,188.1 158.8,191.2 156.2,190.6 159.4,187.5 159.4,178.8 163.1,173.1 161.2,171.2 160.0,166.2" fill="#6ba8fb" stroke="#6ba8fb" stroke-width="0.6"/>
<polygon points="176.2,166.2 178.8,166.9 177.5,168.1" fill="#0a0809" stroke="#0a0809" stroke-width="0.6"/>
<polygon points="159.4,178.8 159.4,187.5 156.2,190.6 158.8,191.2 163.8,188.1 168.8,188.8 172.5,191.2 175.0,196.2 180.0,197.5 183.1,202.5 185.6,205.0 185.0,208.1 183.8,211.2 185.0,216.2 183.1,221.2 180.0,223.8 177.5,227.5 163.8,227.5 155.0,228.8 150.0,232.5 142.5,235.0 137.5,236.9 131.2,240.0 125.0,242.5 120.0,241.2 115.0,240.0 113.1,238.8 113.8,236.2 120.0,235.6 118.8,233.8 116.2,232.5 116.2,228.8 121.2,225.0 122.5,221.2 120.0,217.5 115.0,215.0 111.2,212.5 109.4,208.8 110.0,203.8 111.9,200.0 112.5,196.9 115.0,196.2 116.2,198.1 120.0,198.8 121.2,200.0 127.5,201.9 132.5,200.0 135.0,196.9 140.0,196.2 145.0,193.8 150.0,190.0 152.5,186.2 155.0,182.5" fill="#1e3a5f" stroke="#1e3a5f" stroke-width="0.6"/>
<polygon points="128.1,192.5 136.2,186.9 150.0,185.2 159.4,178.8 155.0,182.5 152.5,186.2 150.0,190.0 145.0,193.8 140.0,196.5 135.0,196.9 133.1,194.4" fill="#2f63b8" stroke="#2f63b8" stroke-width="0.6"/>
<polygon points="146.2,173.1 148.8,172.5 151.2,175.6 160.0,171.9 163.1,173.1 159.4,178.8 150.0,185.2 147.5,183.8 152.5,180.0 150.0,178.1 146.2,178.8" fill="#3b82f6" stroke="#3b82f6" stroke-width="0.6"/>
<polygon points="115.6,152.1 144.0,152.1 144.0,161.2 142.5,163.8 136.2,166.9 133.1,170.0 130.0,171.2 125.0,176.2 121.2,176.9 118.8,172.5 120.6,168.8 120.0,164.4 117.5,160.0" fill="#e04040" stroke="#e04040" stroke-width="0.6"/>
<polygon points="144.0,161.2 160.0,161.2 160.0,166.2 161.5,171.2 151.2,175.4 148.8,172.5 146.2,173.1 146.2,177.5 145.0,178.8 141.2,173.1 136.9,166.9 142.5,163.8" fill="#f25c5c" stroke="#f25c5c" stroke-width="0.6"/>
<polygon points="133.1,170.0 136.2,166.9 141.2,173.1 145.0,178.8 141.2,182.5 136.2,185.0 133.8,183.8 135.0,178.8 136.9,175.6 135.0,172.5" fill="#c93030" stroke="#c93030" stroke-width="0.6"/>
<polygon points="141.2,182.5 147.5,178.8 150.0,178.1 147.5,181.9 143.8,184.4 141.9,185.0" fill="#f46a6a" stroke="#f46a6a" stroke-width="0.6"/>
<polygon points="111.9,186.2 115.0,185.6 119.4,186.9 118.8,190.0 116.9,193.8 115.0,196.2 112.5,196.9 111.9,200.0 110.0,198.1 110.6,195.0 108.8,191.9 110.0,188.8" fill="#f57a7a" stroke="#f57a7a" stroke-width="0.6"/>
<polygon points="124.4,195.0 128.8,192.5 133.1,194.4 135.0,196.9 132.5,200.0 127.5,201.9 121.2,201.2 118.8,201.2 124.4,198.8" fill="#f25555" stroke="#f25555" stroke-width="0.6"/>
<polygon points="128.1,244.4 130.6,244.0 133.1,247.5 135.0,250.0 132.5,250.6 129.4,248.8 128.1,246.2" fill="#0a0809" stroke="#0a0809" stroke-width="0.6"/>
<polyline points="242.5,216.2 252.5,218.1 260.0,220.0 266.2,217.5 267.5,212.5 272.5,211.9 275.0,216.2 282.5,220.0 288.8,217.5 290.0,215.0 300.0,216.2" fill="none" stroke="#000" stroke-opacity="0.22" stroke-width="0.6"/>
<polyline points="276.2,182.5 280.0,192.5 286.2,202.5 290.0,215.0" fill="none" stroke="#000" stroke-opacity="0.22" stroke-width="0.6"/>
<polyline points="135.0,205.0 147.5,202.5 157.5,198.8 167.5,200.0 170.0,207.5 185.0,208.1" fill="none" stroke="#000" stroke-opacity="0.22" stroke-width="0.6"/>
<polyline points="116.2,207.5 125.0,210.0 135.0,212.5 147.5,210.0 157.5,217.5 141.2,225.0 147.5,230.0" fill="none" stroke="#000" stroke-opacity="0.22" stroke-width="0.6"/>
<polyline points="127.5,220.0 135.0,216.2 141.2,225.0" fill="none" stroke="#000" stroke-opacity="0.22" stroke-width="0.6"/>
<polyline points="136.2,205.0 137.5,215.0" fill="none" stroke="#000" stroke-opacity="0.22" stroke-width="0.6"/>
</g>
<g clip-path="url(#c10)">
<polygon points="416.7,820.0 426.7,818.3 430.0,825.0 428.3,830.0 421.7,832.5 420.0,838.3 416.7,835.0" fill="#a52222" stroke="#a52222" stroke-width="0.6"/>
</g>
<g clip-path="url(#c11)">
<polyline points="241.7,217.5 255.0,218.3 263.3,220.0 266.7,212.5 271.7,213.3 275.0,216.7 283.3,220.0 288.3,215.8" fill="none" stroke="#000" stroke-opacity="0.22" stroke-width="0.6"/>
<polyline points="285.0,200.0 288.3,210.0 290.0,215.8 300.0,217.5 308.3,216.7 338.3,206.7 339.2,200.0" fill="none" stroke="#000" stroke-opacity="0.22" stroke-width="0.6"/>
<polyline points="308.3,216.7 312.5,223.3 310.8,230.0 311.7,241.7 315.0,249.2" fill="none" stroke="#000" stroke-opacity="0.22" stroke-width="0.6"/>
<polyline points="338.3,206.7 339.2,215.0 345.0,219.2 345.8,251.7" fill="none" stroke="#000" stroke-opacity="0.22" stroke-width="0.6"/>
<polyline points="345.8,227.5 349.2,226.7 350.0,221.7 356.7,221.7 356.7,234.2 360.8,234.2 360.8,238.3 365.0,238.3 365.0,233.3 371.7,233.3 371.7,243.3 398.3,243.7 398.3,273.3 412.5,273.3 412.5,298.3 427.5,298.7" fill="none" stroke="#000" stroke-opacity="0.22" stroke-width="0.6"/>
<polyline points="443.3,200.0 421.7,231.7 399.2,232.5 398.3,243.7" fill="none" stroke="#000" stroke-opacity="0.22" stroke-width="0.6"/>
<polygon points="353.0,233.8 356.3,233.8 356.3,236.7 353.0,236.7" fill="#0a0809" stroke="#0a0809" stroke-width="0.6"/>
</g>
</svg></div>
<div class="card"></div>
<div class="logo"></div>
<div class="r" style="left:736px;top:80px;width:1136px;height:1px;background:#164e5c"></div>
<div class="r" style="left:736px;top:307px;width:1136px;height:1px;background:#1f1d1e"></div>
<div class="r" style="left:736px;top:338px;width:1136px;height:1px;background:#1f1d1e"></div>
<div class="r" style="left:736px;top:387px;width:1136px;height:1px;background:#3a3839"></div>
<div class="r" style="left:736px;top:430px;width:1136px;height:1px;background:#1f1d1e"></div>
<div class="r" style="left:736px;top:471px;width:1136px;height:1px;background:#1f1d1e"></div>
<div class="r" style="left:736px;top:512px;width:1136px;height:1px;background:#1f1d1e"></div>
<div class="r" style="left:736px;top:555px;width:1136px;height:1px;background:#1f1d1e"></div>
<div class="r" style="left:736px;top:564px;width:1136px;height:1px;background:#3a3839"></div>
<div class="r" style="left:736px;top:632px;width:368px;height:1px;background:#1f1d1e"></div>
<div class="r" style="left:1120px;top:632px;width:368px;height:1px;background:#1f1d1e"></div>
<div class="r" style="left:1504px;top:632px;width:368px;height:1px;background:#1f1d1e"></div>
<div class="r" style="left:736px;top:670px;width:368px;height:1px;background:#1f1d1e"></div>
<div class="r" style="left:1120px;top:670px;width:368px;height:1px;background:#1f1d1e"></div>
<div class="r" style="left:736px;top:702px;width:368px;height:1px;background:#1f1d1e"></div>
<div class="r" style="left:1120px;top:702px;width:368px;height:1px;background:#1f1d1e"></div>
<div class="r" style="left:736px;top:734px;width:368px;height:1px;background:#1f1d1e"></div>
<div class="r" style="left:1120px;top:734px;width:368px;height:1px;background:#1f1d1e"></div>
<div class="r" style="left:736px;top:766px;width:368px;height:1px;background:#1f1d1e"></div>
<div class="r" style="left:1120px;top:766px;width:368px;height:1px;background:#1f1d1e"></div>
<div class="r" style="left:736px;top:797px;width:368px;height:1px;background:#1f1d1e"></div>
<div class="r" style="left:1120px;top:797px;width:368px;height:1px;background:#1f1d1e"></div>
<div class="r" style="left:736px;top:837px;width:1136px;height:1px;background:#1f1d1e"></div>
<div class="r" style="left:736px;top:856px;width:1px;height:48px;background:#1f1d1e"></div>
<div class="r" style="left:1026px;top:856px;width:1px;height:48px;background:#1f1d1e"></div>
<div class="r" style="left:1316px;top:856px;width:1px;height:48px;background:#1f1d1e"></div>
<div class="r" style="left:1606px;top:856px;width:1px;height:48px;background:#1f1d1e"></div>
<div class="r" style="left:736px;top:995px;width:463px;height:1px;background:#164e5c"></div>
<div class="r" style="left:1127px;top:362px;width:16.5px;height:2px;background:#f5f3f1"></div>
<div class="r" style="left:1127px;top:408px;width:13.3px;height:2px;background:#f5f3f1"></div>
<div class="r" style="left:1127px;top:449px;width:13.3px;height:2px;background:#f5f3f1"></div>
<div class="r" style="left:1127px;top:491px;width:13.3px;height:2px;background:#f5f3f1"></div>
<div class="r" style="left:1127px;top:533px;width:13.3px;height:2px;background:#f5f3f1"></div>
<div class="r" style="left:1034px;top:651px;width:70px;height:6px;border-radius:3px;background:#1c1a1b;overflow:hidden"><div style="width:27.93px;height:6px;border-radius:3px;background:#94a3b8"></div></div>
<div class="r" style="left:1034px;top:683px;width:70px;height:6px;border-radius:3px;background:#1c1a1b;overflow:hidden"><div style="width:4.20px;height:6px;border-radius:3px;background:#f59e0b"></div></div>
<div class="r" style="left:1034px;top:715px;width:70px;height:6px;border-radius:3px;background:#1c1a1b;overflow:hidden"><div style="width:34.58px;height:6px;border-radius:3px;background:#a78bfa"></div></div>
<div class="r" style="left:1034px;top:747px;width:70px;height:6px;border-radius:3px;background:#1c1a1b;overflow:hidden"><div style="width:0.98px;height:6px;border-radius:3px;background:#34d399"></div></div>
<div class="r" style="left:1034px;top:779px;width:70px;height:6px;border-radius:3px;background:#1c1a1b;overflow:hidden"><div style="width:0.21px;height:6px;border-radius:3px;background:#f472b6"></div></div>
<div class="r" style="left:1418px;top:651px;width:70px;height:6px;border-radius:3px;background:#1c1a1b;overflow:hidden"><div style="width:6.09px;height:6px;border-radius:3px;background:#94a3b8"></div></div>
<div class="r" style="left:1418px;top:683px;width:70px;height:6px;border-radius:3px;background:#1c1a1b;overflow:hidden"><div style="width:5.11px;height:6px;border-radius:3px;background:#94a3b8"></div></div>
<div class="r" style="left:1418px;top:715px;width:70px;height:6px;border-radius:3px;background:#1c1a1b;overflow:hidden"><div style="width:3.43px;height:6px;border-radius:3px;background:#94a3b8"></div></div>
<div class="r" style="left:1418px;top:747px;width:70px;height:6px;border-radius:3px;background:#1c1a1b;overflow:hidden"><div style="width:2.73px;height:6px;border-radius:3px;background:#94a3b8"></div></div>
<div class="r" style="left:1418px;top:779px;width:70px;height:6px;border-radius:3px;background:#1c1a1b;overflow:hidden"><div style="width:2.10px;height:6px;border-radius:3px;background:#f59e0b"></div></div>
<span class="t" style="left:774.45px;top:34.99px;font-size:28.55px;color:#f5f3f1;-webkit-text-stroke:1.1px #f5f3f1;transform:scaleX(1.0429);">Akashic Edge</span>
<span class="t" style="left:1729.40px;top:41.99px;font-size:17.6px;color:#8a7d78;-webkit-text-stroke:0.6px #8a7d78;transform:scaleX(1.0317);">akashicedge.com</span>
<span class="t" style="left:735.95px;top:93.58px;font-size:17.61px;color:#8a7d78;-webkit-text-stroke:0.45px #8a7d78;transform:scaleX(1.0970);">Congressional district</span>
<span class="t" style="left:735.96px;top:120.32px;font-size:56.43px;color:#f5f3f1;font-weight:700;transform:scaleX(0.9140);">Georgia's 2nd Congressional District</span>
<span class="t" style="left:735.92px;top:192.32px;font-size:19.57px;color:#a8a29e;-webkit-text-stroke:0.6px #a8a29e;transform:scaleX(1.0653);">Latest presidential: 2024</span>
<span class="t" style="left:736.91px;top:226.93px;font-size:38.7px;color:#60a5fa;-webkit-text-stroke:1.3px #60a5fa;transform:scaleX(0.9536);">D +7.5</span>
<span class="t" style="left:861.78px;top:250.78px;font-size:15.72px;color:#a8a29e;-webkit-text-stroke:0.4px #a8a29e;transform:scaleX(0.9100);">— · 2024</span>
<span class="t" style="left:735.91px;top:280.08px;font-size:17.25px;color:#f5f3f1;-webkit-text-stroke:0.6px #f5f3f1;transform:scaleX(1.0698);">Presidential Vote · 2008–2024</span>
<span class="t" style="left:736.60px;top:314.90px;font-size:13.62px;color:#8a7d78;-webkit-text-stroke:0.4px #8a7d78;transform:scaleX(1.0108);">Year</span>
<span class="t" style="left:805.66px;top:314.93px;font-size:13.62px;color:#8a7d78;-webkit-text-stroke:0.4px #8a7d78;transform:scaleX(0.9445);">Dem %</span>
<span class="t" style="left:905.05px;top:314.95px;font-size:13.62px;color:#8a7d78;-webkit-text-stroke:0.4px #8a7d78;transform:scaleX(0.9000);">Rep %</span>
<span class="t" style="left:1004.90px;top:314.89px;font-size:13.62px;color:#8a7d78;-webkit-text-stroke:0.4px #8a7d78;transform:scaleX(1.1164);">Margin</span>
<span class="t" style="left:1126.00px;top:314.95px;font-size:13.62px;color:#8a7d78;-webkit-text-stroke:0.4px #8a7d78;transform:scaleX(1.0652);">Winner</span>
<span class="t" style="left:734.94px;top:350.93px;font-size:21.45px;color:#f5f3f1;-webkit-text-stroke:0.7px #f5f3f1;transform:scaleX(1.0958);">2024</span>
<span class="t" style="left:806.43px;top:350.93px;font-size:21.45px;color:#60a5fa;-webkit-text-stroke:0.7px #60a5fa;transform:scaleX(0.9228);">53.6 %</span>
<span class="t" style="left:906.00px;top:350.93px;font-size:21.45px;color:#f87171;-webkit-text-stroke:0.7px #f87171;transform:scaleX(0.9695);">46.0 %</span>
<span class="t" style="left:1005.64px;top:350.93px;font-size:21.45px;color:#60a5fa;-webkit-text-stroke:0.7px #60a5fa;transform:scaleX(0.9759);">D +7.5</span>
<span class="t" style="left:735.89px;top:400.21px;font-size:17.1px;color:#f5f3f1;-webkit-text-stroke:0.7px #f5f3f1;transform:scaleX(1.1221);">2020</span>
<span class="t" style="left:806.42px;top:400.21px;font-size:17.1px;color:#60a5fa;-webkit-text-stroke:0.7px #60a5fa;transform:scaleX(0.9416);">54.8 %</span>
<span class="t" style="left:906.00px;top:400.21px;font-size:17.1px;color:#f87171;-webkit-text-stroke:0.7px #f87171;transform:scaleX(0.9577);">44.3 %</span>
<span class="t" style="left:1005.59px;top:400.21px;font-size:17.1px;color:#60a5fa;-webkit-text-stroke:0.7px #60a5fa;transform:scaleX(1.0093);">D +10.4</span>
<span class="t" style="left:735.98px;top:441.61px;font-size:17.1px;color:#f5f3f1;-webkit-text-stroke:0.7px #f5f3f1;transform:scaleX(1.0137);">2016</span>
<span class="t" style="left:806.42px;top:441.61px;font-size:17.1px;color:#60a5fa;-webkit-text-stroke:0.7px #60a5fa;transform:scaleX(0.9426);">53.6 %</span>
<span class="t" style="left:906.00px;top:441.61px;font-size:17.1px;color:#f87171;-webkit-text-stroke:0.7px #f87171;transform:scaleX(0.9577);">44.5 %</span>
<span class="t" style="left:1005.65px;top:441.60px;font-size:17.1px;color:#60a5fa;-webkit-text-stroke:0.7px #60a5fa;transform:scaleX(0.9101);">D +9.1</span>
<span class="t" style="left:735.98px;top:483.41px;font-size:17.1px;color:#f5f3f1;-webkit-text-stroke:0.7px #f5f3f1;transform:scaleX(1.0137);">2012</span>
<span class="t" style="left:806.42px;top:483.41px;font-size:17.1px;color:#60a5fa;-webkit-text-stroke:0.7px #60a5fa;transform:scaleX(0.9426);">57.4 %</span>
<span class="t" style="left:905.98px;top:483.41px;font-size:17.1px;color:#f87171;-webkit-text-stroke:0.7px #f87171;transform:scaleX(0.9614);">42.6 %</span>
<span class="t" style="left:1005.62px;top:483.39px;font-size:17.1px;color:#60a5fa;-webkit-text-stroke:0.7px #60a5fa;transform:scaleX(0.9670);">D +14.9</span>
<span class="t" style="left:735.89px;top:525.21px;font-size:17.1px;color:#f5f3f1;-webkit-text-stroke:0.7px #f5f3f1;transform:scaleX(1.1221);">2008</span>
<span class="t" style="left:806.41px;top:525.18px;font-size:17.1px;color:#60a5fa;-webkit-text-stroke:0.7px #60a5fa;transform:scaleX(0.9718);">56.0 %</span>
<span class="t" style="left:905.98px;top:525.21px;font-size:17.1px;color:#f87171;-webkit-text-stroke:0.7px #f87171;transform:scaleX(0.9614);">42.8 %</span>
<span class="t" style="left:1005.62px;top:525.19px;font-size:17.1px;color:#60a5fa;-webkit-text-stroke:0.7px #60a5fa;transform:scaleX(0.9670);">D +13.2</span>
<span class="t" style="left:735.00px;top:574.91px;font-size:15.8px;color:#a8a29e;-webkit-text-stroke:0.4px #a8a29e;transform:scaleX(0.9967);">Net swing 2008 → 2024</span>
<span class="t" style="left:1800.00px;top:573.99px;font-size:15.65px;color:#f87171;-webkit-text-stroke:0.5px #f87171;transform:scaleX(0.9867);">R +5.7 pts</span>
<span class="t" style="left:735.79px;top:606.19px;font-size:17.83px;color:#f5f3f1;-webkit-text-stroke:0.6px #f5f3f1;transform:scaleX(1.0046);">Race &amp; Ethnicity</span>
<span class="t" style="left:1120.43px;top:606.19px;font-size:17.83px;color:#f5f3f1;-webkit-text-stroke:0.6px #f5f3f1;transform:scaleX(1.0427);">Top Ancestries</span>
<span class="t" style="left:1503.59px;top:606.19px;font-size:17.83px;color:#f5f3f1;-webkit-text-stroke:0.6px #f5f3f1;transform:scaleX(1.0176);">Religious Composition</span>
<span class="t" style="left:736.44px;top:647.04px;font-size:14.42px;color:#f5f3f1;-webkit-text-stroke:0.55px #f5f3f1;transform:scaleX(1.0698);">White, non-Hispanic</span>
<span class="t" style="left:959.78px;top:646.85px;font-size:14.64px;color:#a8a29e;-webkit-text-stroke:0.4px #a8a29e;transform:scaleX(0.9130);">39.9 %</span>
<span class="t" style="left:735.37px;top:679.03px;font-size:14.42px;color:#f5f3f1;-webkit-text-stroke:0.55px #f5f3f1;transform:scaleX(1.0653);">Hispanic or Latino</span>
<span class="t" style="left:959.81px;top:678.84px;font-size:14.64px;color:#a8a29e;-webkit-text-stroke:0.4px #a8a29e;transform:scaleX(0.9291);">6.0 %</span>
<span class="t" style="left:735.37px;top:711.01px;font-size:14.42px;color:#f5f3f1;-webkit-text-stroke:0.55px #f5f3f1;transform:scaleX(1.0492);">Black</span>
<span class="t" style="left:959.79px;top:710.85px;font-size:14.64px;color:#a8a29e;-webkit-text-stroke:0.4px #a8a29e;transform:scaleX(0.9479);">49.4 %</span>
<span class="t" style="left:736.42px;top:743.02px;font-size:14.42px;color:#f5f3f1;-webkit-text-stroke:0.55px #f5f3f1;transform:scaleX(1.0403);">Asian</span>
<span class="t" style="left:958.91px;top:742.89px;font-size:14.64px;color:#a8a29e;-webkit-text-stroke:0.4px #a8a29e;transform:scaleX(0.8653);">1.4 %</span>
<span class="t" style="left:736.44px;top:775.02px;font-size:14.42px;color:#f5f3f1;-webkit-text-stroke:0.55px #f5f3f1;transform:scaleX(1.0606);">AIAN</span>
<span class="t" style="left:959.79px;top:774.84px;font-size:14.64px;color:#a8a29e;-webkit-text-stroke:0.4px #a8a29e;transform:scaleX(0.9298);">0.3 %</span>
<span class="t" style="left:1121.24px;top:647.04px;font-size:14.42px;color:#f5f3f1;-webkit-text-stroke:0.55px #f5f3f1;transform:scaleX(1.0723);">American</span>
<span class="t" style="left:1343.85px;top:646.86px;font-size:14.64px;color:#a8a29e;-webkit-text-stroke:0.4px #a8a29e;transform:scaleX(0.8897);">8.7 %</span>
<span class="t" style="left:1120.16px;top:679.02px;font-size:14.42px;color:#f5f3f1;-webkit-text-stroke:0.55px #f5f3f1;transform:scaleX(1.0414);">English</span>
<span class="t" style="left:1343.85px;top:678.86px;font-size:14.64px;color:#a8a29e;-webkit-text-stroke:0.4px #a8a29e;transform:scaleX(0.8897);">7.3 %</span>
<span class="t" style="left:1120.11px;top:711.04px;font-size:14.42px;color:#f5f3f1;-webkit-text-stroke:0.55px #f5f3f1;transform:scaleX(1.0712);">Irish</span>
<span class="t" style="left:1343.80px;top:710.85px;font-size:14.64px;color:#a8a29e;-webkit-text-stroke:0.4px #a8a29e;transform:scaleX(0.9085);">4.9 %</span>
<span class="t" style="left:1121.19px;top:743.03px;font-size:14.42px;color:#f5f3f1;-webkit-text-stroke:0.55px #f5f3f1;transform:scaleX(1.0667);">German</span>
<span class="t" style="left:1343.78px;top:742.86px;font-size:14.64px;color:#a8a29e;-webkit-text-stroke:0.4px #a8a29e;transform:scaleX(0.8869);">3.9 %</span>
<span class="t" style="left:1120.17px;top:775.02px;font-size:14.42px;color:#f5f3f1;-webkit-text-stroke:0.55px #f5f3f1;transform:scaleX(1.0634);">Mexican</span>
<span class="t" style="left:1343.78px;top:774.84px;font-size:14.64px;color:#a8a29e;-webkit-text-stroke:0.4px #a8a29e;transform:scaleX(0.9367);">3.0 %</span>
<span class="t" style="left:1503.37px;top:641.29px;font-size:14.64px;color:#a8a29e;-webkit-text-stroke:0.4px #a8a29e;transform:scaleX(1.0705);">No data.</span>
<span class="t" style="left:736.00px;top:810.99px;font-size:17.83px;color:#f5f3f1;-webkit-text-stroke:0.6px #f5f3f1;transform:scaleX(0.9937);">Economics &amp; Language</span>
<span class="t" style="left:749.98px;top:857.94px;font-size:13.62px;color:#8a7d78;-webkit-text-stroke:0.4px #8a7d78;transform:scaleX(1.0300);">Median HH income</span>
<span class="t" style="left:751.60px;top:880.13px;font-size:21.45px;color:#f5f3f1;-webkit-text-stroke:0.7px #f5f3f1;transform:scaleX(1.0156);">$52,535</span>
<span class="t" style="left:1039.92px;top:857.89px;font-size:13.62px;color:#8a7d78;-webkit-text-stroke:0.4px #8a7d78;transform:scaleX(1.0980);">Poverty rate</span>
<span class="t" style="left:1041.10px;top:880.13px;font-size:21.45px;color:#f5f3f1;-webkit-text-stroke:0.7px #f5f3f1;transform:scaleX(0.8563);">21.9 %</span>
<span class="t" style="left:1329.98px;top:857.94px;font-size:13.62px;color:#8a7d78;-webkit-text-stroke:0.4px #8a7d78;transform:scaleX(1.0304);">English at home</span>
<span class="t" style="left:1331.06px;top:880.13px;font-size:21.45px;color:#f5f3f1;-webkit-text-stroke:0.7px #f5f3f1;transform:scaleX(0.9206);">93.3 %</span>
<span class="t" style="left:1621.41px;top:857.95px;font-size:13.62px;color:#8a7d78;-webkit-text-stroke:0.4px #8a7d78;transform:scaleX(1.0585);">Other language</span>
<span class="t" style="left:1621.49px;top:880.13px;font-size:21.45px;color:#f5f3f1;-webkit-text-stroke:0.7px #f5f3f1;transform:scaleX(0.9022);">6.7 %</span>
<span class="t" style="left:736.03px;top:1007.39px;font-size:13.33px;color:#8a7d78;-webkit-text-stroke:0.4px #8a7d78;transform:scaleX(0.9596);">Sources: Akashic Edge elections database · PL 94-171 (2020) · ACS 5-yr B04006</span>
<span class="t" style="left:736.01px;top:1026.63px;font-size:14.2px;color:#a8a29e;-webkit-text-stroke:0.4px #a8a29e;transform:scaleX(1.0397);">akashicedge.com/districts/ga-02</span>
<span class="t" style="left:251.04px;top:928.27px;font-size:17.46px;color:#a8a29e;-webkit-text-stroke:0.45px #a8a29e;transform:scaleX(0.9522);">2024 · Dem 53.6 % · Rep 46.0 %</span>
</body></html>
